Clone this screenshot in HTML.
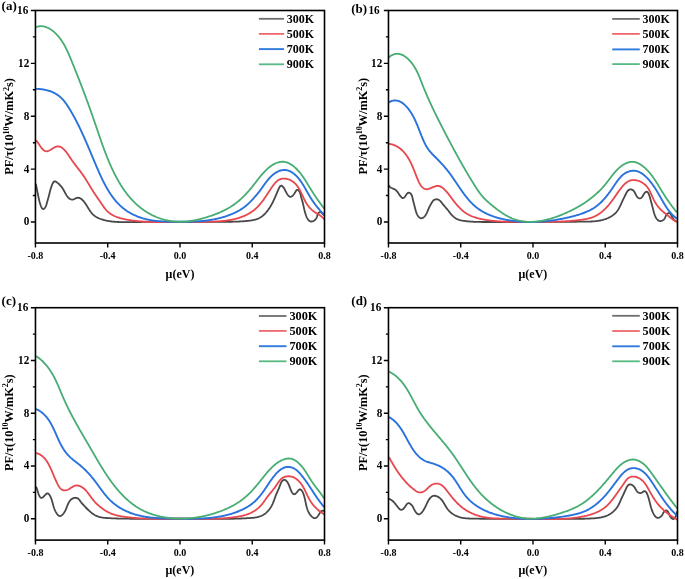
<!DOCTYPE html>
<html><head><meta charset="utf-8"><style>
html,body{margin:0;padding:0;background:#fff;width:685px;height:579px;overflow:hidden}
svg{display:block;will-change:transform;filter:blur(0.35px)}
</style></head><body>
<svg width="685" height="579" viewBox="0 0 685 579">
<rect width="685" height="579" fill="#fff"/>
<clipPath id="clipa"><rect x="35.45" y="10.50" width="289.05" height="232.50"/></clipPath>
<g clip-path="url(#clipa)" fill="none" stroke-linejoin="round" stroke-linecap="round">
<path d="M36.01,184.51 36.14,185.20 36.27,185.89 36.40,186.58 36.53,187.27 36.66,187.96 36.79,188.65 36.92,189.34 37.05,190.03 37.19,190.72 37.32,191.41 37.45,192.10 37.59,192.79 37.73,193.48 37.86,194.17 38.00,194.86 38.14,195.54 38.29,196.23 38.43,196.92 38.57,197.61 38.72,198.29 38.87,198.98 39.03,199.66 39.18,200.35 39.35,201.03 39.52,201.71 39.71,202.39 39.91,203.06 40.12,203.73 40.34,204.40 40.58,205.06 40.82,205.72 41.08,206.37 41.36,207.01 41.67,207.64 42.03,208.24 42.48,208.78 43.09,209.12 43.76,208.97 44.31,208.54 44.77,208.01 45.17,207.43 45.52,206.83 45.84,206.20 46.11,205.55 46.34,204.89 46.54,204.21 46.72,203.54 46.91,202.86 47.10,202.18 47.29,201.51 47.48,200.83 47.67,200.16 47.87,199.48 48.06,198.80 48.25,198.13 48.44,197.45 48.62,196.77 48.80,196.10 48.98,195.42 49.15,194.74 49.32,194.05 49.49,193.37 49.65,192.69 49.82,192.01 50.00,191.33 50.18,190.65 50.36,189.97 50.55,189.30 50.75,188.62 50.95,187.95 51.17,187.28 51.39,186.62 51.63,185.95 51.87,185.30 52.12,184.64 52.39,183.99 52.69,183.35 53.02,182.74 53.42,182.16 53.91,181.67 54.54,181.37 55.24,181.42 55.89,181.68 56.49,182.05 57.06,182.46 57.61,182.89 58.15,183.33 58.69,183.79 59.20,184.27 59.71,184.76 60.20,185.26 60.67,185.78 61.12,186.32 61.56,186.87 61.98,187.43 62.38,188.01 62.76,188.60 63.12,189.20 63.47,189.80 63.81,190.42 64.15,191.04 64.48,191.66 64.81,192.28 65.14,192.90 65.47,193.51 65.82,194.13 66.17,194.73 66.54,195.33 66.93,195.91 67.34,196.48 67.78,197.03 68.25,197.56 68.75,198.05 69.28,198.50 69.86,198.90 70.48,199.23 71.14,199.48 71.83,199.61 72.53,199.61 73.22,199.50 73.88,199.27 74.51,198.96 75.13,198.62 75.74,198.29 76.39,198.01 77.06,197.82 77.76,197.73 78.46,197.77 79.15,197.91 79.81,198.14 80.44,198.45 81.03,198.82 81.60,199.24 82.13,199.70 82.64,200.18 83.12,200.69 83.59,201.22 84.03,201.76 84.47,202.31 84.89,202.87 85.30,203.44 85.70,204.02 86.09,204.61 86.47,205.20 86.84,205.79 87.21,206.39 87.58,206.99 87.94,207.59 88.31,208.19 88.68,208.78 89.05,209.38 89.44,209.97 89.82,210.55 90.22,211.13 90.63,211.70 91.06,212.26 91.50,212.81 91.95,213.34 92.42,213.86 92.91,214.37 93.42,214.85 93.95,215.31 94.50,215.75 95.06,216.16 95.65,216.56 96.24,216.93 96.85,217.29 97.47,217.62 98.09,217.93 98.73,218.23 99.37,218.51 100.03,218.77 100.68,219.02 101.34,219.25 102.01,219.47 102.68,219.68 103.36,219.88 104.03,220.06 104.71,220.24 105.40,220.40 106.08,220.56 106.77,220.71 107.46,220.84 108.15,220.97 108.84,221.09 109.53,221.20 110.23,221.31 110.92,221.40 111.62,221.49 112.32,221.57 113.01,221.64 113.71,221.71 114.41,221.77 115.11,221.83 115.81,221.87 116.51,221.92 117.22,221.95 117.92,221.99 118.62,222.01 119.32,222.04 120.02,222.06 120.72,222.07 121.43,222.08 122.13,222.09 122.83,222.10 123.53,222.10 124.24,222.10 124.94,222.10 125.64,222.10 126.34,222.09 127.04,222.09 127.75,222.08 128.45,222.07 129.15,222.07 129.85,222.06 130.55,222.05 131.26,222.04 131.96,222.04 132.66,222.03 133.36,222.02 134.07,222.02 134.77,222.01 135.47,222.01 136.17,222.00 136.87,222.00 137.58,221.99 138.28,221.99 138.98,221.99 139.68,221.98 140.39,221.98 141.09,221.98 141.79,221.97 142.49,221.97 143.19,221.97 143.90,221.97 144.60,221.97 145.30,221.97 146.00,221.96 146.71,221.96 147.41,221.96 148.11,221.96 148.81,221.96 149.51,221.96 150.22,221.96 150.92,221.96 151.62,221.96 152.32,221.96 153.02,221.96 153.73,221.96 154.43,221.97 155.13,221.97 155.83,221.97 156.54,221.97 157.24,221.97 157.94,221.97 158.64,221.97 159.34,221.97 160.05,221.98 160.75,221.98 161.45,221.98 162.15,221.98 162.86,221.98 163.56,221.98 164.26,221.99 164.96,221.99 165.66,221.99 166.37,221.99 167.07,221.99 167.77,221.99 168.47,222.00 169.18,222.00 169.88,222.00 170.58,222.00 171.28,222.00 171.98,222.00 172.69,222.00 173.39,222.01 174.09,222.01 174.79,222.01 175.50,222.01 176.20,222.01 176.90,222.01 177.60,222.01 178.30,222.01 179.01,222.01 179.71,222.01 180.41,222.01 181.11,222.01 181.82,222.01 182.52,222.01 183.22,222.00 183.92,222.00 184.62,222.00 185.33,222.00 186.03,222.00 186.73,222.00 187.43,221.99 188.14,221.99 188.84,221.99 189.54,221.98 190.24,221.98 190.94,221.98 191.65,221.97 192.35,221.97 193.05,221.96 193.75,221.96 194.45,221.95 195.16,221.95 195.86,221.94 196.56,221.94 197.26,221.93 197.97,221.92 198.67,221.92 199.37,221.91 200.07,221.91 200.77,221.90 201.48,221.89 202.18,221.89 202.88,221.88 203.58,221.88 204.29,221.87 204.99,221.87 205.69,221.86 206.39,221.85 207.09,221.85 207.80,221.84 208.50,221.84 209.20,221.83 209.90,221.83 210.60,221.82 211.31,221.82 212.01,221.81 212.71,221.81 213.41,221.80 214.12,221.80 214.82,221.80 215.52,221.79 216.22,221.79 216.92,221.79 217.63,221.79 218.33,221.79 219.03,221.78 219.73,221.78 220.44,221.78 221.14,221.78 221.84,221.78 222.54,221.78 223.24,221.78 223.95,221.78 224.65,221.78 225.35,221.78 226.05,221.78 226.76,221.78 227.46,221.78 228.16,221.77 228.86,221.77 229.56,221.76 230.27,221.76 230.97,221.75 231.67,221.74 232.37,221.73 233.07,221.72 233.78,221.70 234.48,221.68 235.18,221.67 235.88,221.65 236.58,221.62 237.29,221.60 237.99,221.57 238.69,221.54 239.39,221.51 240.09,221.47 240.79,221.43 241.49,221.39 242.20,221.35 242.90,221.30 243.60,221.25 244.30,221.19 245.00,221.14 245.70,221.07 246.39,221.01 247.09,220.94 247.79,220.87 248.49,220.79 249.19,220.71 249.88,220.62 250.58,220.52 251.27,220.41 251.97,220.30 252.66,220.17 253.34,220.03 254.03,219.88 254.71,219.71 255.39,219.52 256.06,219.32 256.73,219.10 257.39,218.86 258.04,218.60 258.68,218.31 259.31,218.00 259.93,217.67 260.53,217.31 261.12,216.93 261.70,216.53 262.27,216.12 262.82,215.68 263.35,215.23 263.88,214.76 264.39,214.28 264.89,213.78 265.37,213.28 265.85,212.76 266.31,212.23 266.76,211.69 267.20,211.15 267.63,210.59 268.06,210.03 268.47,209.46 268.87,208.89 269.26,208.31 269.65,207.72 270.02,207.12 270.39,206.53 270.75,205.92 271.10,205.31 271.45,204.70 271.78,204.09 272.11,203.47 272.44,202.84 272.76,202.22 273.07,201.59 273.38,200.96 273.68,200.32 273.98,199.69 274.27,199.05 274.56,198.41 274.84,197.77 275.13,197.13 275.41,196.48 275.69,195.84 275.96,195.19 276.24,194.55 276.51,193.90 276.78,193.25 277.06,192.61 277.33,191.96 277.60,191.31 277.88,190.67 278.16,190.02 278.44,189.38 278.73,188.74 279.03,188.10 279.34,187.48 279.69,186.87 280.11,186.30 280.63,185.84 281.30,185.67 281.95,185.92 282.51,186.34 283.01,186.84 283.46,187.38 283.87,187.95 284.24,188.54 284.57,189.16 284.89,189.79 285.20,190.42 285.51,191.05 285.83,191.67 286.16,192.29 286.50,192.90 286.86,193.51 287.24,194.10 287.64,194.68 288.07,195.23 288.54,195.75 289.06,196.22 289.66,196.59 290.32,196.81 291.02,196.78 291.66,196.51 292.24,196.11 292.76,195.63 293.23,195.11 293.67,194.56 294.08,194.00 294.48,193.42 294.85,192.83 295.22,192.23 295.58,191.62 295.93,191.02 296.31,190.42 296.79,189.91 297.46,189.80 298.08,190.11 298.61,190.57 299.07,191.10 299.47,191.67 299.82,192.29 300.10,192.93 300.33,193.59 300.52,194.27 300.68,194.95 300.82,195.64 300.97,196.33 301.13,197.01 301.31,197.69 301.50,198.36 301.71,199.04 301.91,199.71 302.12,200.38 302.31,201.05 302.50,201.73 302.68,202.41 302.85,203.09 303.02,203.77 303.18,204.46 303.34,205.14 303.49,205.83 303.64,206.51 303.79,207.20 303.94,207.88 304.10,208.57 304.25,209.25 304.42,209.94 304.58,210.62 304.76,211.30 304.94,211.98 305.13,212.65 305.33,213.33 305.54,214.00 305.76,214.66 305.98,215.33 306.23,215.99 306.48,216.64 306.76,217.28 307.06,217.92 307.39,218.54 307.76,219.14 308.16,219.71 308.62,220.25 309.13,220.72 309.71,221.12 310.36,221.39 311.05,221.52 311.75,221.50 312.44,221.36 313.10,221.13 313.73,220.82 314.32,220.45 314.87,220.01 315.38,219.53 315.83,218.99 316.23,218.41 316.55,217.79 316.81,217.13 317.03,216.47 317.22,215.79 317.43,215.12 317.67,214.46 317.96,213.83 318.35,213.24 318.82,212.72 319.40,212.32 320.06,212.12 320.76,212.19 321.38,212.50 321.91,212.97 322.36,213.50 322.81,214.05 323.28,214.56 323.90,214.85" stroke="#484848" stroke-width="1.80"/>
<path d="M36.40,140.75 36.88,141.27 37.32,141.81 37.74,142.38 38.14,142.95 38.54,143.53 38.92,144.12 39.31,144.71 39.69,145.29 40.08,145.88 40.47,146.46 40.87,147.04 41.29,147.61 41.71,148.17 42.16,148.71 42.63,149.23 43.12,149.73 43.65,150.19 44.22,150.60 44.83,150.95 45.49,151.20 46.18,151.32 46.88,151.31 47.57,151.19 48.24,150.97 48.88,150.71 49.51,150.39 50.13,150.06 50.73,149.70 51.33,149.33 51.93,148.96 52.52,148.58 53.12,148.21 53.72,147.85 54.33,147.51 54.96,147.19 55.60,146.91 56.26,146.67 56.94,146.50 57.64,146.41 58.34,146.41 59.04,146.50 59.72,146.67 60.38,146.92 61.01,147.22 61.62,147.57 62.20,147.96 62.76,148.39 63.29,148.84 63.81,149.32 64.31,149.81 64.79,150.33 65.26,150.85 65.71,151.38 66.15,151.93 66.58,152.48 67.01,153.05 67.42,153.61 67.82,154.19 68.22,154.76 68.62,155.35 69.01,155.93 69.39,156.52 69.78,157.10 70.16,157.69 70.55,158.28 70.94,158.86 71.33,159.44 71.73,160.02 72.13,160.60 72.54,161.17 72.95,161.74 73.36,162.31 73.78,162.87 74.20,163.44 74.62,164.00 75.05,164.56 75.47,165.11 75.90,165.67 76.33,166.23 76.76,166.78 77.19,167.34 77.62,167.89 78.05,168.44 78.48,169.00 78.91,169.56 79.34,170.11 79.77,170.67 80.19,171.23 80.62,171.79 81.04,172.35 81.45,172.92 81.87,173.48 82.28,174.06 82.68,174.63 83.08,175.20 83.48,175.78 83.87,176.37 84.26,176.95 84.65,177.54 85.03,178.13 85.41,178.72 85.78,179.31 86.15,179.91 86.53,180.51 86.89,181.10 87.26,181.70 87.63,182.30 87.99,182.90 88.35,183.50 88.72,184.10 89.08,184.71 89.44,185.31 89.80,185.91 90.16,186.51 90.53,187.11 90.89,187.71 91.26,188.31 91.62,188.91 91.99,189.51 92.36,190.11 92.74,190.70 93.11,191.29 93.49,191.88 93.87,192.47 94.26,193.06 94.65,193.65 95.04,194.23 95.43,194.81 95.82,195.39 96.22,195.97 96.61,196.55 97.01,197.13 97.41,197.71 97.81,198.29 98.21,198.87 98.61,199.45 99.01,200.02 99.40,200.60 99.80,201.18 100.20,201.76 100.59,202.34 100.99,202.92 101.38,203.50 101.77,204.09 102.16,204.67 102.56,205.25 102.96,205.83 103.36,206.41 103.77,206.98 104.18,207.54 104.60,208.11 105.03,208.66 105.48,209.20 105.93,209.74 106.40,210.26 106.88,210.78 107.38,211.27 107.89,211.75 108.42,212.21 108.96,212.66 109.51,213.09 110.08,213.51 110.66,213.90 111.25,214.28 111.85,214.65 112.46,215.00 113.08,215.33 113.70,215.65 114.33,215.96 114.97,216.25 115.62,216.52 116.27,216.79 116.93,217.04 117.59,217.28 118.25,217.51 118.92,217.72 119.59,217.93 120.26,218.13 120.94,218.32 121.62,218.50 122.30,218.67 122.98,218.83 123.67,218.99 124.35,219.13 125.04,219.28 125.73,219.41 126.42,219.55 127.11,219.67 127.80,219.80 128.49,219.91 129.19,220.03 129.88,220.14 130.58,220.25 131.27,220.35 131.97,220.45 132.66,220.54 133.36,220.63 134.05,220.72 134.75,220.81 135.45,220.89 136.15,220.96 136.84,221.04 137.54,221.11 138.24,221.18 138.94,221.24 139.64,221.30 140.34,221.36 141.04,221.41 141.74,221.47 142.44,221.52 143.14,221.56 143.84,221.61 144.55,221.65 145.25,221.69 145.95,221.72 146.65,221.75 147.35,221.79 148.05,221.81 148.75,221.84 149.46,221.87 150.16,221.89 150.86,221.91 151.56,221.93 152.26,221.94 152.97,221.96 153.67,221.97 154.37,221.98 155.07,221.99 155.77,222.00 156.48,222.01 157.18,222.01 157.88,222.01 158.58,222.02 159.29,222.02 159.99,222.02 160.69,222.02 161.39,222.02 162.09,222.01 162.80,222.01 163.50,222.01 164.20,222.00 164.90,222.00 165.61,221.99 166.31,221.98 167.01,221.98 167.71,221.97 168.41,221.96 169.12,221.96 169.82,221.95 170.52,221.94 171.22,221.93 171.93,221.93 172.63,221.92 173.33,221.91 174.03,221.90 174.73,221.90 175.44,221.89 176.14,221.89 176.84,221.88 177.54,221.88 178.25,221.87 178.95,221.87 179.65,221.87 180.35,221.86 181.06,221.86 181.76,221.86 182.46,221.86 183.16,221.85 183.86,221.85 184.57,221.85 185.27,221.85 185.97,221.85 186.67,221.85 187.38,221.85 188.08,221.85 188.78,221.84 189.48,221.84 190.18,221.84 190.89,221.84 191.59,221.84 192.29,221.84 192.99,221.84 193.70,221.83 194.40,221.83 195.10,221.83 195.80,221.83 196.50,221.82 197.21,221.82 197.91,221.81 198.61,221.81 199.31,221.80 200.02,221.80 200.72,221.79 201.42,221.79 202.12,221.78 202.82,221.77 203.53,221.76 204.23,221.75 204.93,221.74 205.63,221.73 206.34,221.72 207.04,221.71 207.74,221.70 208.44,221.68 209.14,221.67 209.85,221.65 210.55,221.63 211.25,221.62 211.95,221.60 212.65,221.57 213.36,221.55 214.06,221.53 214.76,221.50 215.46,221.47 216.16,221.44 216.86,221.40 217.57,221.36 218.27,221.32 218.97,221.28 219.67,221.23 220.37,221.18 221.07,221.13 221.77,221.07 222.47,221.00 223.17,220.94 223.87,220.86 224.56,220.79 225.26,220.71 225.96,220.62 226.65,220.53 227.35,220.43 228.04,220.33 228.74,220.22 229.43,220.11 230.12,219.99 230.81,219.87 231.50,219.74 232.19,219.60 232.88,219.45 233.57,219.30 234.25,219.15 234.93,218.98 235.62,218.81 236.29,218.63 236.97,218.45 237.65,218.26 238.32,218.06 238.99,217.85 239.66,217.63 240.33,217.41 240.99,217.18 241.65,216.94 242.31,216.69 242.96,216.43 243.61,216.17 244.26,215.89 244.90,215.61 245.54,215.32 246.17,215.02 246.80,214.71 247.43,214.39 248.05,214.06 248.66,213.72 249.27,213.37 249.87,213.01 250.47,212.64 251.06,212.26 251.64,211.87 252.22,211.47 252.79,211.06 253.35,210.64 253.91,210.21 254.45,209.76 254.99,209.31 255.52,208.85 256.04,208.38 256.55,207.90 257.06,207.41 257.56,206.91 258.04,206.41 258.53,205.90 259.00,205.38 259.47,204.86 259.93,204.33 260.38,203.79 260.83,203.25 261.27,202.71 261.71,202.16 262.14,201.60 262.57,201.04 262.99,200.48 263.40,199.91 263.81,199.34 264.22,198.77 264.62,198.20 265.02,197.62 265.42,197.04 265.81,196.45 266.20,195.87 266.58,195.28 266.97,194.70 267.35,194.11 267.73,193.52 268.11,192.93 268.49,192.33 268.87,191.74 269.25,191.15 269.63,190.57 270.02,189.98 270.40,189.39 270.80,188.81 271.19,188.23 271.59,187.65 271.99,187.07 272.40,186.50 272.81,185.93 273.23,185.37 273.66,184.81 274.09,184.26 274.54,183.72 274.99,183.18 275.46,182.66 275.95,182.15 276.45,181.66 276.97,181.19 277.51,180.75 278.08,180.33 278.67,179.95 279.28,179.61 279.92,179.31 280.58,179.07 281.25,178.87 281.94,178.73 282.64,178.63 283.34,178.58 284.04,178.56 284.74,178.59 285.44,178.65 286.13,178.75 286.82,178.88 287.51,179.04 288.18,179.24 288.85,179.46 289.50,179.71 290.15,179.99 290.78,180.30 291.39,180.64 291.99,181.00 292.58,181.39 293.14,181.81 293.69,182.24 294.23,182.70 294.74,183.18 295.24,183.67 295.73,184.18 296.19,184.71 296.64,185.25 297.07,185.80 297.49,186.36 297.90,186.94 298.29,187.52 298.66,188.11 299.03,188.71 299.38,189.32 299.72,189.93 300.06,190.55 300.38,191.17 300.70,191.80 301.01,192.43 301.31,193.06 301.62,193.70 301.91,194.33 302.21,194.97 302.50,195.61 302.80,196.25 303.09,196.88 303.39,197.52 303.69,198.16 303.99,198.79 304.30,199.42 304.61,200.05 304.93,200.67 305.26,201.29 305.60,201.91 305.95,202.52 306.31,203.12 306.68,203.72 307.06,204.31 307.46,204.88 307.87,205.45 308.30,206.01 308.73,206.56 309.18,207.10 309.65,207.63 310.12,208.15 310.61,208.65 311.11,209.15 311.62,209.63 312.14,210.09 312.68,210.55 313.22,210.99 313.78,211.42 314.35,211.84 314.92,212.24 315.51,212.63 316.10,213.00 316.70,213.37 317.30,213.74 317.90,214.10 318.50,214.46 319.10,214.83 319.69,215.21 320.27,215.60 320.85,216.00 321.41,216.42 321.96,216.86 322.49,217.33 322.99,217.81 323.47,218.33 323.92,218.87" stroke="#e8474d" stroke-width="1.80"/>
<path d="M36.36,88.84 37.07,88.86 37.77,88.90 38.47,88.94 39.17,88.99 39.87,89.06 40.57,89.13 41.26,89.21 41.96,89.30 42.66,89.40 43.35,89.52 44.04,89.64 44.73,89.77 45.42,89.91 46.10,90.07 46.78,90.23 47.46,90.41 48.14,90.60 48.81,90.80 49.48,91.01 50.15,91.23 50.81,91.47 51.47,91.72 52.12,91.98 52.76,92.25 53.40,92.54 54.04,92.85 54.66,93.16 55.28,93.50 55.89,93.84 56.49,94.21 57.08,94.59 57.66,94.98 58.23,95.39 58.79,95.82 59.34,96.26 59.88,96.71 60.40,97.17 60.92,97.65 61.42,98.14 61.92,98.64 62.40,99.15 62.88,99.66 63.34,100.19 63.80,100.72 64.25,101.26 64.69,101.81 65.12,102.37 65.54,102.93 65.95,103.49 66.36,104.06 66.77,104.64 67.16,105.22 67.55,105.80 67.94,106.39 68.32,106.98 68.69,107.57 69.07,108.17 69.43,108.77 69.80,109.37 70.16,109.97 70.52,110.57 70.88,111.18 71.23,111.78 71.59,112.39 71.94,113.00 72.28,113.61 72.63,114.22 72.97,114.83 73.32,115.44 73.66,116.06 73.99,116.67 74.33,117.29 74.66,117.91 75.00,118.53 75.33,119.15 75.65,119.77 75.98,120.39 76.30,121.01 76.63,121.64 76.95,122.26 77.27,122.89 77.58,123.51 77.90,124.14 78.21,124.77 78.52,125.40 78.83,126.03 79.14,126.66 79.45,127.29 79.76,127.92 80.06,128.55 80.36,129.19 80.66,129.82 80.96,130.46 81.26,131.09 81.56,131.73 81.85,132.37 82.15,133.00 82.44,133.64 82.73,134.28 83.02,134.92 83.31,135.56 83.60,136.20 83.89,136.84 84.17,137.48 84.46,138.13 84.74,138.77 85.02,139.41 85.31,140.05 85.59,140.70 85.87,141.34 86.15,141.98 86.43,142.63 86.70,143.27 86.98,143.92 87.26,144.56 87.53,145.21 87.81,145.86 88.09,146.50 88.36,147.15 88.63,147.79 88.91,148.44 89.18,149.09 89.45,149.73 89.73,150.38 90.00,151.03 90.27,151.68 90.54,152.32 90.81,152.97 91.08,153.62 91.36,154.27 91.63,154.91 91.90,155.56 92.17,156.21 92.44,156.86 92.71,157.51 92.98,158.15 93.25,158.80 93.53,159.45 93.80,160.10 94.07,160.74 94.34,161.39 94.62,162.04 94.89,162.68 95.16,163.33 95.44,163.98 95.71,164.62 95.99,165.27 96.26,165.92 96.54,166.56 96.81,167.21 97.09,167.85 97.37,168.50 97.65,169.14 97.93,169.79 98.21,170.43 98.49,171.07 98.77,171.72 99.05,172.36 99.34,173.00 99.63,173.64 99.91,174.28 100.20,174.92 100.50,175.56 100.79,176.20 101.09,176.83 101.38,177.47 101.68,178.10 101.98,178.74 102.29,179.37 102.60,180.00 102.90,180.63 103.22,181.26 103.53,181.89 103.85,182.52 104.17,183.14 104.49,183.77 104.82,184.39 105.15,185.01 105.48,185.63 105.81,186.24 106.15,186.86 106.50,187.47 106.84,188.08 107.19,188.69 107.55,189.30 107.91,189.90 108.27,190.50 108.64,191.10 109.01,191.70 109.38,192.29 109.76,192.88 110.15,193.47 110.53,194.05 110.93,194.63 111.33,195.21 111.73,195.79 112.14,196.36 112.55,196.92 112.97,197.49 113.40,198.05 113.83,198.60 114.26,199.15 114.70,199.70 115.15,200.24 115.60,200.78 116.06,201.31 116.52,201.84 116.99,202.36 117.47,202.88 117.95,203.39 118.44,203.90 118.93,204.39 119.43,204.89 119.93,205.38 120.45,205.86 120.96,206.33 121.49,206.80 122.02,207.26 122.55,207.71 123.10,208.16 123.64,208.60 124.20,209.03 124.76,209.45 125.32,209.87 125.90,210.28 126.47,210.68 127.06,211.07 127.64,211.45 128.24,211.83 128.84,212.19 129.44,212.55 130.05,212.90 130.66,213.25 131.28,213.58 131.90,213.91 132.52,214.23 133.15,214.54 133.78,214.85 134.42,215.14 135.06,215.43 135.70,215.72 136.35,215.99 137.00,216.26 137.65,216.52 138.31,216.77 138.96,217.02 139.62,217.26 140.29,217.49 140.95,217.72 141.62,217.93 142.29,218.14 142.96,218.35 143.63,218.54 144.31,218.73 144.99,218.92 145.67,219.09 146.35,219.26 147.03,219.42 147.72,219.58 148.40,219.73 149.09,219.87 149.78,220.00 150.47,220.13 151.16,220.25 151.86,220.36 152.55,220.47 153.25,220.57 153.94,220.66 154.64,220.75 155.34,220.83 156.03,220.91 156.73,220.98 157.43,221.05 158.13,221.11 158.83,221.17 159.53,221.22 160.23,221.27 160.93,221.32 161.63,221.36 162.33,221.40 163.04,221.43 163.74,221.46 164.44,221.49 165.14,221.52 165.84,221.54 166.54,221.57 167.25,221.59 167.95,221.60 168.65,221.62 169.35,221.64 170.05,221.65 170.76,221.67 171.46,221.68 172.16,221.70 172.86,221.71 173.56,221.72 174.27,221.73 174.97,221.74 175.67,221.75 176.37,221.76 177.07,221.77 177.78,221.78 178.48,221.79 179.18,221.79 179.88,221.80 180.58,221.80 181.29,221.81 181.99,221.81 182.69,221.81 183.39,221.80 184.10,221.80 184.80,221.80 185.50,221.79 186.20,221.78 186.90,221.77 187.61,221.76 188.31,221.75 189.01,221.73 189.71,221.71 190.41,221.69 191.12,221.67 191.82,221.65 192.52,221.62 193.22,221.59 193.92,221.56 194.62,221.53 195.33,221.49 196.03,221.45 196.73,221.41 197.43,221.37 198.13,221.32 198.83,221.27 199.53,221.22 200.23,221.16 200.93,221.11 201.63,221.04 202.33,220.98 203.03,220.91 203.73,220.84 204.42,220.76 205.12,220.69 205.82,220.60 206.52,220.52 207.21,220.43 207.91,220.33 208.60,220.24 209.30,220.14 209.99,220.03 210.69,219.92 211.38,219.81 212.07,219.69 212.76,219.57 213.45,219.44 214.14,219.31 214.83,219.18 215.52,219.04 216.21,218.90 216.90,218.75 217.58,218.60 218.26,218.44 218.95,218.28 219.63,218.11 220.31,217.94 220.99,217.76 221.67,217.58 222.34,217.39 223.02,217.20 223.69,217.00 224.37,216.80 225.04,216.59 225.71,216.37 226.37,216.15 227.04,215.93 227.70,215.70 228.36,215.46 229.02,215.22 229.68,214.97 230.33,214.72 230.98,214.46 231.63,214.19 232.28,213.92 232.92,213.64 233.57,213.35 234.20,213.06 234.84,212.76 235.47,212.45 236.10,212.14 236.72,211.82 237.35,211.49 237.96,211.16 238.58,210.81 239.19,210.47 239.79,210.11 240.39,209.75 240.99,209.37 241.58,208.99 242.16,208.61 242.74,208.21 243.32,207.81 243.89,207.40 244.46,206.98 245.01,206.56 245.57,206.12 246.11,205.68 246.65,205.23 247.18,204.78 247.71,204.31 248.23,203.84 248.74,203.36 249.25,202.87 249.75,202.38 250.24,201.88 250.73,201.38 251.22,200.87 251.70,200.36 252.18,199.84 252.65,199.33 253.12,198.80 253.59,198.28 254.05,197.75 254.52,197.23 254.98,196.70 255.44,196.17 255.90,195.64 256.36,195.10 256.81,194.57 257.26,194.03 257.71,193.49 258.16,192.95 258.60,192.40 259.03,191.85 259.46,191.30 259.89,190.74 260.31,190.18 260.73,189.61 261.14,189.04 261.55,188.48 261.96,187.90 262.37,187.33 262.78,186.76 263.18,186.19 263.59,185.62 264.00,185.04 264.41,184.47 264.82,183.91 265.23,183.34 265.65,182.77 266.07,182.21 266.50,181.65 266.93,181.10 267.36,180.55 267.80,180.00 268.25,179.46 268.71,178.93 269.17,178.40 269.64,177.88 270.12,177.37 270.61,176.86 271.11,176.37 271.62,175.89 272.14,175.41 272.67,174.95 273.22,174.51 273.77,174.08 274.33,173.66 274.91,173.26 275.50,172.87 276.10,172.51 276.71,172.16 277.33,171.83 277.96,171.52 278.60,171.24 279.25,170.98 279.91,170.74 280.58,170.53 281.26,170.35 281.95,170.21 282.64,170.09 283.34,170.01 284.04,169.96 284.74,169.96 285.44,169.99 286.14,170.07 286.83,170.19 287.52,170.34 288.19,170.54 288.85,170.77 289.50,171.04 290.14,171.34 290.76,171.66 291.38,172.00 291.97,172.37 292.56,172.76 293.13,173.16 293.69,173.59 294.24,174.03 294.78,174.48 295.30,174.94 295.82,175.42 296.32,175.91 296.81,176.41 297.30,176.92 297.77,177.44 298.23,177.97 298.68,178.51 299.12,179.05 299.56,179.61 299.98,180.17 300.40,180.73 300.80,181.30 301.20,181.88 301.60,182.46 301.98,183.05 302.36,183.64 302.74,184.23 303.10,184.83 303.47,185.43 303.83,186.04 304.18,186.64 304.53,187.25 304.88,187.86 305.23,188.47 305.58,189.08 305.92,189.69 306.26,190.31 306.61,190.92 306.95,191.53 307.29,192.14 307.64,192.76 307.98,193.37 308.33,193.98 308.69,194.58 309.04,195.19 309.40,195.79 309.76,196.39 310.13,196.99 310.50,197.59 310.87,198.18 311.25,198.77 311.63,199.36 312.02,199.95 312.41,200.53 312.80,201.12 313.20,201.69 313.60,202.27 314.01,202.84 314.42,203.41 314.84,203.98 315.25,204.54 315.68,205.10 316.10,205.66 316.54,206.21 316.97,206.76 317.41,207.31 317.85,207.86 318.30,208.40 318.75,208.93 319.21,209.47 319.67,210.00 320.13,210.53 320.60,211.05 321.07,211.57 321.55,212.09 322.03,212.60 322.51,213.11 323.00,213.62 323.49,214.12 323.98,214.62" stroke="#2a72dc" stroke-width="1.90"/>
<path d="M36.28,27.01 36.95,26.79 37.62,26.61 38.31,26.45 39.00,26.34 39.70,26.25 40.40,26.20 41.10,26.19 41.80,26.21 42.50,26.27 43.19,26.36 43.88,26.49 44.57,26.64 45.25,26.82 45.91,27.04 46.57,27.27 47.22,27.54 47.86,27.83 48.49,28.13 49.11,28.46 49.72,28.81 50.32,29.18 50.91,29.56 51.49,29.96 52.06,30.37 52.62,30.79 53.17,31.23 53.71,31.68 54.24,32.14 54.76,32.61 55.27,33.09 55.77,33.58 56.27,34.07 56.76,34.58 57.23,35.09 57.70,35.61 58.17,36.14 58.62,36.68 59.06,37.22 59.50,37.77 59.93,38.32 60.35,38.89 60.76,39.45 61.17,40.03 61.56,40.61 61.95,41.19 62.34,41.78 62.71,42.37 63.08,42.97 63.44,43.57 63.80,44.17 64.15,44.78 64.49,45.40 64.83,46.01 65.16,46.63 65.48,47.25 65.80,47.87 66.12,48.50 66.43,49.13 66.74,49.76 67.04,50.39 67.34,51.03 67.63,51.67 67.92,52.31 68.21,52.95 68.49,53.59 68.78,54.23 69.06,54.87 69.33,55.52 69.61,56.17 69.88,56.81 70.15,57.46 70.42,58.11 70.69,58.76 70.95,59.41 71.22,60.05 71.48,60.70 71.75,61.35 72.01,62.00 72.28,62.65 72.54,63.30 72.80,63.95 73.07,64.61 73.33,65.26 73.59,65.91 73.86,66.56 74.12,67.21 74.38,67.86 74.64,68.51 74.90,69.16 75.16,69.81 75.42,70.47 75.68,71.12 75.94,71.77 76.20,72.42 76.46,73.07 76.72,73.73 76.98,74.38 77.24,75.03 77.49,75.68 77.75,76.34 78.01,76.99 78.27,77.64 78.52,78.30 78.78,78.95 79.03,79.60 79.29,80.26 79.54,80.91 79.80,81.56 80.05,82.22 80.31,82.87 80.56,83.53 80.81,84.18 81.06,84.84 81.32,85.49 81.57,86.15 81.82,86.80 82.07,87.46 82.32,88.11 82.57,88.77 82.82,89.42 83.07,90.08 83.32,90.74 83.57,91.39 83.82,92.05 84.06,92.70 84.31,93.36 84.56,94.02 84.80,94.68 85.05,95.33 85.30,95.99 85.54,96.65 85.79,97.30 86.03,97.96 86.27,98.62 86.52,99.28 86.76,99.94 87.00,100.60 87.25,101.25 87.49,101.91 87.73,102.57 87.97,103.23 88.21,103.89 88.45,104.55 88.69,105.21 88.93,105.87 89.17,106.53 89.40,107.19 89.64,107.85 89.88,108.51 90.12,109.17 90.35,109.83 90.59,110.49 90.82,111.15 91.06,111.81 91.29,112.48 91.53,113.14 91.76,113.80 91.99,114.46 92.22,115.12 92.46,115.79 92.69,116.45 92.92,117.11 93.15,117.77 93.38,118.44 93.61,119.10 93.84,119.76 94.07,120.43 94.29,121.09 94.52,121.75 94.75,122.42 94.98,123.08 95.20,123.75 95.43,124.41 95.65,125.08 95.88,125.74 96.11,126.40 96.33,127.07 96.56,127.73 96.78,128.40 97.01,129.06 97.23,129.73 97.46,130.39 97.68,131.06 97.91,131.72 98.13,132.39 98.36,133.05 98.58,133.72 98.81,134.38 99.04,135.04 99.26,135.71 99.49,136.37 99.72,137.04 99.95,137.70 100.18,138.36 100.41,139.03 100.64,139.69 100.87,140.35 101.10,141.01 101.33,141.68 101.56,142.34 101.80,143.00 102.03,143.66 102.27,144.32 102.50,144.98 102.74,145.64 102.98,146.30 103.22,146.96 103.46,147.62 103.70,148.28 103.94,148.94 104.18,149.60 104.43,150.26 104.67,150.91 104.92,151.57 105.17,152.23 105.42,152.88 105.67,153.54 105.92,154.19 106.18,154.85 106.43,155.50 106.69,156.15 106.95,156.80 107.21,157.46 107.47,158.11 107.74,158.76 108.00,159.41 108.27,160.05 108.54,160.70 108.81,161.35 109.08,162.00 109.36,162.64 109.64,163.29 109.92,163.93 110.20,164.57 110.48,165.22 110.77,165.86 111.05,166.50 111.34,167.14 111.63,167.77 111.93,168.41 112.22,169.05 112.52,169.68 112.82,170.32 113.13,170.95 113.43,171.58 113.74,172.21 114.05,172.84 114.37,173.47 114.68,174.09 115.00,174.72 115.32,175.34 115.65,175.97 115.97,176.59 116.30,177.21 116.64,177.82 116.97,178.44 117.31,179.06 117.65,179.67 117.99,180.28 118.34,180.89 118.69,181.50 119.04,182.11 119.40,182.71 119.76,183.31 120.12,183.92 120.48,184.51 120.85,185.11 121.23,185.71 121.60,186.30 121.98,186.89 122.36,187.48 122.75,188.06 123.14,188.65 123.54,189.23 123.93,189.80 124.34,190.38 124.74,190.95 125.15,191.52 125.57,192.09 125.98,192.65 126.41,193.21 126.83,193.77 127.26,194.32 127.70,194.87 128.14,195.42 128.58,195.97 129.03,196.51 129.48,197.04 129.94,197.58 130.40,198.11 130.86,198.63 131.33,199.15 131.81,199.67 132.29,200.18 132.77,200.69 133.26,201.19 133.75,201.69 134.25,202.19 134.75,202.68 135.26,203.16 135.77,203.64 136.28,204.12 136.81,204.59 137.33,205.06 137.86,205.52 138.39,205.97 138.93,206.42 139.47,206.87 140.02,207.31 140.57,207.74 141.12,208.17 141.68,208.60 142.25,209.02 142.81,209.43 143.38,209.84 143.96,210.24 144.54,210.64 145.12,211.03 145.71,211.41 146.30,211.79 146.89,212.17 147.49,212.53 148.09,212.89 148.70,213.25 149.31,213.60 149.92,213.94 150.53,214.28 151.15,214.61 151.78,214.93 152.40,215.24 153.03,215.55 153.67,215.86 154.30,216.15 154.94,216.44 155.59,216.72 156.23,217.00 156.88,217.26 157.53,217.52 158.19,217.78 158.85,218.02 159.51,218.26 160.17,218.49 160.84,218.71 161.50,218.92 162.17,219.13 162.85,219.32 163.52,219.52 164.20,219.70 164.88,219.87 165.56,220.04 166.25,220.20 166.93,220.35 167.62,220.49 168.31,220.63 169.00,220.76 169.69,220.88 170.38,220.99 171.07,221.10 171.77,221.19 172.46,221.28 173.16,221.37 173.86,221.44 174.56,221.51 175.26,221.57 175.96,221.62 176.66,221.66 177.36,221.70 178.06,221.72 178.76,221.74 179.46,221.76 180.16,221.76 180.87,221.76 181.57,221.75 182.27,221.73 182.97,221.71 183.67,221.68 184.37,221.64 185.07,221.59 185.77,221.54 186.47,221.48 187.17,221.41 187.87,221.34 188.56,221.25 189.26,221.17 189.96,221.07 190.65,220.97 191.34,220.87 192.04,220.76 192.73,220.64 193.42,220.52 194.11,220.39 194.80,220.26 195.49,220.12 196.17,219.97 196.86,219.83 197.54,219.67 198.23,219.51 198.91,219.35 199.59,219.19 200.27,219.01 200.95,218.84 201.63,218.66 202.31,218.48 202.98,218.29 203.66,218.10 204.33,217.90 205.01,217.71 205.68,217.50 206.35,217.30 207.02,217.09 207.69,216.88 208.36,216.67 209.03,216.45 209.69,216.23 210.36,216.01 211.02,215.79 211.69,215.56 212.35,215.32 213.01,215.09 213.67,214.85 214.33,214.61 214.99,214.36 215.64,214.11 216.29,213.86 216.95,213.60 217.60,213.33 218.25,213.07 218.89,212.80 219.54,212.52 220.18,212.24 220.83,211.96 221.47,211.67 222.10,211.38 222.74,211.08 223.37,210.78 224.00,210.47 224.63,210.15 225.25,209.84 225.88,209.51 226.50,209.18 227.11,208.85 227.73,208.51 228.34,208.16 228.95,207.81 229.55,207.46 230.15,207.09 230.75,206.73 231.34,206.35 231.93,205.97 232.52,205.58 233.10,205.19 233.68,204.79 234.25,204.39 234.82,203.98 235.38,203.56 235.94,203.13 236.50,202.71 237.05,202.27 237.59,201.83 238.14,201.39 238.68,200.94 239.21,200.48 239.74,200.02 240.26,199.55 240.79,199.08 241.30,198.61 241.82,198.13 242.33,197.65 242.83,197.16 243.33,196.67 243.83,196.18 244.32,195.68 244.82,195.18 245.30,194.67 245.79,194.16 246.27,193.65 246.74,193.14 247.22,192.62 247.69,192.10 248.15,191.57 248.62,191.05 249.08,190.52 249.54,189.99 249.99,189.45 250.44,188.92 250.89,188.38 251.34,187.84 251.79,187.30 252.23,186.75 252.67,186.20 253.11,185.66 253.54,185.11 253.98,184.56 254.41,184.00 254.84,183.45 255.27,182.89 255.70,182.34 256.13,181.78 256.55,181.22 256.98,180.67 257.41,180.11 257.84,179.56 258.27,179.00 258.70,178.45 259.14,177.90 259.57,177.35 260.01,176.80 260.46,176.26 260.90,175.72 261.35,175.18 261.80,174.64 262.26,174.11 262.72,173.58 263.19,173.06 263.66,172.54 264.14,172.02 264.62,171.51 265.11,171.01 265.61,170.52 266.11,170.03 266.62,169.54 267.14,169.07 267.66,168.60 268.19,168.14 268.73,167.70 269.28,167.26 269.84,166.83 270.40,166.41 270.97,166.00 271.55,165.61 272.14,165.22 272.73,164.85 273.34,164.50 273.95,164.16 274.58,163.83 275.21,163.53 275.85,163.24 276.50,162.97 277.15,162.72 277.82,162.50 278.49,162.30 279.17,162.13 279.86,161.98 280.55,161.87 281.25,161.79 281.95,161.74 282.65,161.73 283.35,161.75 284.05,161.82 284.74,161.92 285.43,162.06 286.11,162.24 286.78,162.44 287.44,162.68 288.09,162.94 288.73,163.22 289.36,163.53 289.98,163.86 290.59,164.21 291.19,164.58 291.78,164.96 292.35,165.36 292.92,165.78 293.48,166.20 294.02,166.64 294.56,167.09 295.09,167.56 295.61,168.03 296.12,168.51 296.62,169.00 297.11,169.50 297.60,170.01 298.07,170.52 298.54,171.05 299.00,171.57 299.46,172.11 299.90,172.65 300.34,173.20 300.77,173.75 301.20,174.31 301.62,174.87 302.03,175.44 302.44,176.01 302.84,176.58 303.24,177.16 303.64,177.74 304.02,178.33 304.41,178.91 304.79,179.50 305.17,180.09 305.54,180.69 305.92,181.28 306.29,181.88 306.65,182.48 307.02,183.07 307.39,183.67 307.75,184.27 308.11,184.87 308.48,185.47 308.84,186.08 309.20,186.68 309.57,187.28 309.93,187.87 310.30,188.47 310.67,189.07 311.04,189.66 311.41,190.26 311.79,190.85 312.16,191.45 312.54,192.04 312.92,192.63 313.30,193.22 313.69,193.80 314.07,194.39 314.46,194.98 314.85,195.56 315.24,196.14 315.63,196.72 316.03,197.30 316.42,197.88 316.82,198.46 317.22,199.04 317.62,199.61 318.03,200.19 318.43,200.76 318.84,201.33 319.25,201.90 319.66,202.47 320.07,203.04 320.49,203.60 320.90,204.17 321.32,204.73 321.74,205.29 322.16,205.86 322.58,206.42 323.01,206.98 323.43,207.53 323.86,208.09" stroke="#47ad73" stroke-width="1.80"/>
</g>
<rect x="35.45" y="10.50" width="289.05" height="232.50" fill="none" stroke="#000" stroke-width="1.6"/>
<path d="M30.85,222.00H35.45M32.85,195.56H35.45M30.85,169.12H35.45M32.85,142.68H35.45M30.85,116.24H35.45M32.85,89.80H35.45M30.85,63.36H35.45M32.85,36.92H35.45M30.85,10.48H35.45M35.45,243.00V247.40M107.71,243.00V247.40M179.98,243.00V247.40M252.24,243.00V247.40M324.50,243.00V247.40" stroke="#000" stroke-width="1.4" fill="none"/>
<g font-family="'Liberation Serif', serif" font-weight="bold" font-size="11.2" fill="#000"><text transform="translate(29.25,225.40) scale(1,1.2)" text-anchor="end">0</text><text transform="translate(29.25,172.52) scale(1,1.2)" text-anchor="end">4</text><text transform="translate(29.25,119.64) scale(1,1.2)" text-anchor="end">8</text><text transform="translate(29.25,66.76) scale(1,1.2)" text-anchor="end">12</text><text transform="translate(28.25,13.88) scale(1,1.2)" text-anchor="end">16</text></g>
<g font-family="'Liberation Serif', serif" font-weight="bold" font-size="10" fill="#000"><text x="35.45" y="258.60" text-anchor="middle">-0.8</text><text x="107.71" y="258.60" text-anchor="middle">-0.4</text><text x="179.98" y="258.60" text-anchor="middle">0.0</text><text x="252.24" y="258.60" text-anchor="middle">0.4</text><text x="324.50" y="258.60" text-anchor="middle">0.8</text></g>
<text x="1.60" y="10.00" font-family="'Liberation Serif', serif" font-weight="bold" font-size="13">(a)</text>
<text x="180.00" y="277.60" text-anchor="middle" font-family="'Liberation Serif', serif" font-weight="bold" font-size="12">&#956;(eV)</text>
<text transform="translate(13.20,126.50) rotate(-90)" text-anchor="middle" font-family="'Liberation Serif', serif" font-weight="bold" font-size="12.25">PF/&#964;(10<tspan font-size="8" dy="-4.5">10</tspan><tspan dy="4.5">W/mK</tspan><tspan font-size="8" dy="-4.5">2</tspan><tspan dy="4.5">s)</tspan></text>
<line x1="258.90" y1="18.80" x2="284.00" y2="18.80" stroke="#6e6e6e" stroke-width="1.80"/>
<text x="286.70" y="22.82" font-family="'Liberation Serif', serif" font-weight="bold" font-size="12">300K</text>
<line x1="258.90" y1="33.90" x2="284.00" y2="33.90" stroke="#ee676c" stroke-width="1.80"/>
<text x="286.70" y="37.92" font-family="'Liberation Serif', serif" font-weight="bold" font-size="12">500K</text>
<line x1="258.90" y1="49.10" x2="284.00" y2="49.10" stroke="#2f7bde" stroke-width="1.90"/>
<text x="286.70" y="53.12" font-family="'Liberation Serif', serif" font-weight="bold" font-size="12">700K</text>
<line x1="258.90" y1="64.30" x2="284.00" y2="64.30" stroke="#58b983" stroke-width="1.80"/>
<text x="286.70" y="68.32" font-family="'Liberation Serif', serif" font-weight="bold" font-size="12">900K</text>
<clipPath id="clipb"><rect x="388.47" y="10.50" width="289.03" height="232.50"/></clipPath>
<g clip-path="url(#clipb)" fill="none" stroke-linejoin="round" stroke-linecap="round">
<path d="M389.00,185.80 389.39,186.38 389.88,186.89 390.43,187.32 391.03,187.69 391.66,188.01 392.30,188.29 392.95,188.56 393.59,188.83 394.23,189.12 394.85,189.45 395.44,189.84 395.99,190.28 396.50,190.76 396.97,191.28 397.41,191.83 397.82,192.40 398.22,192.97 398.61,193.56 398.99,194.15 399.38,194.73 399.78,195.31 400.19,195.88 400.61,196.44 401.07,196.97 401.57,197.47 402.14,197.88 402.80,198.09 403.49,197.97 404.08,197.60 404.59,197.11 405.04,196.57 405.45,196.00 405.83,195.42 406.21,194.83 406.60,194.24 407.02,193.68 407.50,193.17 408.08,192.78 408.77,192.64 409.45,192.78 410.07,193.10 410.61,193.55 411.07,194.08 411.45,194.67 411.76,195.30 412.00,195.96 412.19,196.64 412.36,197.32 412.52,198.00 412.68,198.69 412.84,199.37 413.00,200.05 413.17,200.74 413.34,201.42 413.51,202.10 413.68,202.78 413.85,203.46 414.03,204.14 414.20,204.82 414.38,205.50 414.56,206.18 414.73,206.86 414.91,207.54 415.09,208.22 415.27,208.90 415.45,209.58 415.63,210.26 415.82,210.93 416.02,211.61 416.24,212.27 416.47,212.93 416.74,213.59 417.03,214.22 417.35,214.85 417.70,215.46 418.09,216.04 418.51,216.60 418.98,217.13 419.49,217.60 420.07,218.00 420.72,218.27 421.42,218.34 422.10,218.20 422.74,217.91 423.33,217.53 423.87,217.08 424.38,216.59 424.85,216.07 425.29,215.52 425.69,214.95 426.07,214.36 426.41,213.74 426.73,213.12 427.03,212.49 427.32,211.84 427.59,211.20 427.86,210.55 428.12,209.90 428.39,209.24 428.66,208.60 428.94,207.95 429.23,207.32 429.54,206.69 429.87,206.06 430.20,205.44 430.54,204.83 430.89,204.22 431.24,203.61 431.60,203.01 431.96,202.41 432.33,201.81 432.73,201.23 433.17,200.69 433.68,200.20 434.27,199.81 434.91,199.53 435.58,199.35 436.28,199.27 436.98,199.31 437.67,199.44 438.34,199.67 438.96,199.98 439.54,200.38 440.07,200.84 440.56,201.34 441.02,201.87 441.47,202.42 441.90,202.97 442.33,203.52 442.78,204.07 443.22,204.61 443.67,205.15 444.13,205.68 444.59,206.22 445.05,206.75 445.51,207.28 445.96,207.81 446.42,208.35 446.87,208.88 447.32,209.42 447.76,209.97 448.20,210.52 448.62,211.08 449.05,211.64 449.47,212.20 449.90,212.76 450.33,213.31 450.78,213.85 451.23,214.39 451.70,214.92 452.18,215.43 452.68,215.92 453.19,216.40 453.72,216.86 454.27,217.30 454.83,217.72 455.41,218.12 456.00,218.49 456.61,218.84 457.24,219.16 457.88,219.45 458.53,219.71 459.20,219.93 459.87,220.12 460.56,220.29 461.24,220.43 461.94,220.55 462.63,220.67 463.32,220.78 464.02,220.88 464.71,220.98 465.41,221.07 466.11,221.16 466.80,221.24 467.50,221.31 468.20,221.38 468.90,221.45 469.60,221.51 470.30,221.57 471.00,221.62 471.70,221.66 472.40,221.71 473.10,221.75 473.81,221.78 474.51,221.81 475.21,221.84 475.91,221.87 476.61,221.89 477.31,221.91 478.02,221.93 478.72,221.94 479.42,221.95 480.12,221.96 480.83,221.97 481.53,221.98 482.23,221.98 482.93,221.99 483.64,221.99 484.34,221.99 485.04,221.99 485.74,221.99 486.44,221.99 487.15,221.99 487.85,221.99 488.55,221.99 489.25,221.98 489.96,221.98 490.66,221.98 491.36,221.98 492.06,221.98 492.77,221.98 493.47,221.98 494.17,221.98 494.87,221.98 495.58,221.98 496.28,221.98 496.98,221.98 497.68,221.98 498.38,221.98 499.09,221.98 499.79,221.98 500.49,221.98 501.19,221.98 501.90,221.98 502.60,221.98 503.30,221.98 504.00,221.98 504.71,221.99 505.41,221.99 506.11,221.99 506.81,221.99 507.52,221.99 508.22,221.99 508.92,221.99 509.62,221.99 510.32,221.99 511.03,221.99 511.73,221.99 512.43,221.99 513.13,222.00 513.84,222.00 514.54,222.00 515.24,222.00 515.94,222.00 516.65,222.00 517.35,222.00 518.05,222.00 518.75,222.00 519.46,222.00 520.16,222.00 520.86,222.00 521.56,222.01 522.27,222.01 522.97,222.01 523.67,222.01 524.37,222.01 525.07,222.01 525.78,222.01 526.48,222.01 527.18,222.01 527.88,222.01 528.59,222.01 529.29,222.01 529.99,222.01 530.69,222.01 531.40,222.01 532.10,222.01 532.80,222.01 533.50,222.01 534.21,222.01 534.91,222.00 535.61,222.00 536.31,222.00 537.01,222.00 537.72,222.00 538.42,222.00 539.12,222.00 539.82,222.00 540.53,221.99 541.23,221.99 541.93,221.99 542.63,221.99 543.34,221.99 544.04,221.98 544.74,221.98 545.44,221.98 546.15,221.97 546.85,221.97 547.55,221.97 548.25,221.96 548.95,221.96 549.66,221.96 550.36,221.95 551.06,221.95 551.76,221.94 552.47,221.94 553.17,221.93 553.87,221.93 554.57,221.92 555.28,221.92 555.98,221.91 556.68,221.91 557.38,221.90 558.09,221.90 558.79,221.89 559.49,221.88 560.19,221.88 560.89,221.87 561.60,221.87 562.30,221.86 563.00,221.85 563.70,221.85 564.41,221.84 565.11,221.83 565.81,221.83 566.51,221.82 567.22,221.81 567.92,221.81 568.62,221.80 569.32,221.79 570.03,221.79 570.73,221.78 571.43,221.77 572.13,221.77 572.83,221.76 573.54,221.75 574.24,221.75 574.94,221.74 575.64,221.74 576.35,221.73 577.05,221.72 577.75,221.72 578.45,221.71 579.16,221.70 579.86,221.70 580.56,221.69 581.26,221.69 581.96,221.68 582.67,221.67 583.37,221.67 584.07,221.66 584.77,221.66 585.48,221.65 586.18,221.64 586.88,221.63 587.58,221.62 588.29,221.61 588.99,221.59 589.69,221.57 590.39,221.54 591.09,221.51 591.79,221.48 592.50,221.44 593.20,221.39 593.90,221.34 594.60,221.28 595.30,221.21 595.99,221.14 596.69,221.06 597.39,220.96 598.08,220.86 598.78,220.75 599.47,220.63 600.16,220.50 600.85,220.36 601.53,220.21 602.22,220.04 602.90,219.87 603.57,219.68 604.24,219.48 604.91,219.26 605.58,219.03 606.24,218.79 606.89,218.53 607.54,218.26 608.18,217.98 608.81,217.68 609.44,217.36 610.06,217.03 610.67,216.68 611.27,216.32 611.86,215.94 612.44,215.54 613.01,215.13 613.57,214.70 614.11,214.25 614.64,213.79 615.15,213.31 615.65,212.81 616.13,212.30 616.59,211.77 617.03,211.23 617.45,210.66 617.85,210.09 618.24,209.50 618.61,208.90 618.96,208.29 619.29,207.68 619.62,207.06 619.94,206.43 620.24,205.80 620.54,205.16 620.84,204.52 621.13,203.89 621.42,203.25 621.71,202.60 622.00,201.96 622.29,201.33 622.59,200.69 622.89,200.05 623.19,199.42 623.49,198.79 623.80,198.16 624.11,197.53 624.42,196.90 624.73,196.27 625.04,195.64 625.35,195.00 625.66,194.37 625.97,193.74 626.27,193.11 626.60,192.49 626.95,191.88 627.34,191.30 627.79,190.76 628.30,190.28 628.88,189.89 629.52,189.59 630.20,189.41 630.90,189.38 631.59,189.50 632.24,189.75 632.84,190.11 633.39,190.56 633.86,191.07 634.28,191.64 634.64,192.24 634.96,192.86 635.27,193.50 635.57,194.13 635.88,194.76 636.21,195.38 636.57,195.99 636.96,196.57 637.40,197.12 637.88,197.63 638.43,198.06 639.06,198.36 639.76,198.46 640.44,198.31 641.06,197.99 641.61,197.55 642.07,197.02 642.47,196.45 642.85,195.85 643.20,195.25 643.55,194.64 643.93,194.04 644.32,193.47 644.76,192.91 645.24,192.40 645.78,191.96 646.42,191.68 647.11,191.78 647.66,192.21 648.09,192.76 648.45,193.37 648.75,194.00 649.02,194.65 649.26,195.31 649.49,195.97 649.70,196.64 649.90,197.31 650.10,197.99 650.28,198.67 650.46,199.34 650.65,200.02 650.83,200.70 651.01,201.38 651.19,202.06 651.38,202.74 651.56,203.41 651.74,204.09 651.92,204.77 652.10,205.45 652.29,206.13 652.46,206.81 652.64,207.49 652.82,208.17 652.99,208.85 653.17,209.53 653.34,210.21 653.51,210.89 653.68,211.57 653.86,212.25 654.06,212.92 654.26,213.60 654.48,214.26 654.72,214.92 654.97,215.58 655.24,216.23 655.53,216.87 655.85,217.49 656.20,218.10 656.58,218.69 657.01,219.25 657.48,219.77 658.00,220.24 658.58,220.63 659.23,220.91 659.91,221.05 660.62,221.06 661.31,220.96 661.98,220.75 662.61,220.44 663.20,220.06 663.74,219.61 664.22,219.10 664.63,218.53 664.97,217.92 665.27,217.28 665.54,216.63 665.81,215.98 666.10,215.34 666.43,214.73 666.85,214.16 667.36,213.68 667.96,213.32 668.63,213.12 669.33,213.15 669.97,213.44 670.47,213.92 670.88,214.49 671.23,215.10 671.55,215.73 671.87,216.35 672.20,216.98 672.54,217.59 672.91,218.18 673.31,218.76 673.75,219.31 674.23,219.82 674.76,220.28 675.33,220.69 675.94,221.04 676.58,221.33 677.24,221.57" stroke="#484848" stroke-width="1.80"/>
<path d="M389.35,143.91 390.04,144.01 390.73,144.13 391.42,144.27 392.10,144.44 392.78,144.64 393.45,144.85 394.11,145.09 394.76,145.35 395.40,145.63 396.03,145.94 396.66,146.26 397.27,146.60 397.87,146.97 398.46,147.35 399.04,147.74 399.61,148.16 400.16,148.59 400.71,149.03 401.24,149.49 401.76,149.96 402.27,150.44 402.77,150.93 403.26,151.44 403.73,151.96 404.20,152.48 404.65,153.02 405.10,153.56 405.53,154.11 405.96,154.67 406.37,155.24 406.78,155.81 407.17,156.39 407.56,156.98 407.94,157.57 408.31,158.16 408.67,158.77 409.02,159.37 409.37,159.98 409.70,160.60 410.04,161.22 410.36,161.84 410.67,162.47 410.98,163.10 411.29,163.73 411.58,164.37 411.87,165.01 412.16,165.65 412.44,166.29 412.72,166.94 412.99,167.59 413.25,168.24 413.52,168.89 413.78,169.54 414.04,170.19 414.30,170.84 414.55,171.50 414.81,172.15 415.06,172.81 415.31,173.46 415.57,174.12 415.82,174.77 416.07,175.42 416.33,176.08 416.59,176.73 416.85,177.38 417.11,178.03 417.38,178.68 417.65,179.33 417.92,179.98 418.20,180.62 418.48,181.27 418.78,181.90 419.09,182.53 419.41,183.16 419.75,183.77 420.10,184.38 420.48,184.97 420.88,185.54 421.31,186.10 421.77,186.63 422.25,187.14 422.77,187.61 423.32,188.05 423.91,188.43 424.53,188.76 425.18,189.01 425.87,189.18 426.57,189.23 427.27,189.20 427.96,189.08 428.64,188.91 429.31,188.70 429.97,188.46 430.62,188.19 431.26,187.91 431.90,187.62 432.54,187.34 433.19,187.06 433.84,186.79 434.49,186.54 435.16,186.31 435.83,186.12 436.52,185.99 437.22,185.92 437.92,185.92 438.62,186.00 439.30,186.15 439.97,186.37 440.62,186.64 441.24,186.96 441.85,187.32 442.43,187.71 442.99,188.14 443.53,188.58 444.06,189.04 444.57,189.53 445.07,190.02 445.55,190.53 446.03,191.05 446.49,191.57 446.95,192.11 447.40,192.65 447.84,193.19 448.28,193.74 448.71,194.29 449.14,194.85 449.57,195.40 449.99,195.96 450.41,196.53 450.83,197.09 451.24,197.66 451.66,198.22 452.08,198.79 452.49,199.35 452.91,199.91 453.34,200.48 453.76,201.03 454.19,201.59 454.62,202.14 455.06,202.69 455.50,203.24 455.95,203.78 456.40,204.32 456.85,204.85 457.31,205.38 457.78,205.91 458.25,206.43 458.73,206.94 459.21,207.45 459.70,207.96 460.20,208.45 460.70,208.94 461.21,209.42 461.73,209.90 462.26,210.36 462.79,210.82 463.33,211.26 463.88,211.70 464.44,212.12 465.01,212.53 465.59,212.93 466.17,213.32 466.77,213.70 467.37,214.06 467.98,214.40 468.60,214.74 469.22,215.06 469.85,215.37 470.49,215.67 471.13,215.96 471.77,216.23 472.43,216.49 473.08,216.74 473.74,216.98 474.40,217.21 475.07,217.44 475.74,217.65 476.41,217.85 477.09,218.04 477.76,218.23 478.44,218.40 479.12,218.57 479.81,218.73 480.49,218.89 481.18,219.04 481.87,219.18 482.56,219.31 483.25,219.44 483.94,219.57 484.63,219.69 485.32,219.81 486.01,219.92 486.71,220.03 487.40,220.14 488.10,220.24 488.79,220.33 489.49,220.43 490.18,220.52 490.88,220.61 491.58,220.69 492.27,220.77 492.97,220.85 493.67,220.92 494.37,220.99 495.07,221.06 495.77,221.12 496.47,221.18 497.17,221.24 497.87,221.29 498.57,221.35 499.27,221.40 499.97,221.44 500.67,221.49 501.37,221.53 502.07,221.57 502.77,221.60 503.47,221.64 504.17,221.67 504.87,221.70 505.57,221.73 506.28,221.76 506.98,221.78 507.68,221.80 508.38,221.82 509.08,221.84 509.79,221.86 510.49,221.87 511.19,221.88 511.89,221.90 512.59,221.91 513.30,221.92 514.00,221.92 514.70,221.93 515.40,221.93 516.10,221.94 516.81,221.94 517.51,221.94 518.21,221.95 518.91,221.95 519.61,221.95 520.32,221.94 521.02,221.94 521.72,221.94 522.42,221.94 523.12,221.93 523.83,221.93 524.53,221.93 525.23,221.92 525.93,221.92 526.63,221.91 527.34,221.91 528.04,221.90 528.74,221.90 529.44,221.90 530.14,221.89 530.85,221.89 531.55,221.88 532.25,221.88 532.95,221.88 533.65,221.88 534.36,221.88 535.06,221.87 535.76,221.87 536.46,221.87 537.16,221.87 537.87,221.87 538.57,221.87 539.27,221.87 539.97,221.86 540.68,221.86 541.38,221.86 542.08,221.86 542.78,221.85 543.48,221.85 544.19,221.85 544.89,221.84 545.59,221.84 546.29,221.84 546.99,221.83 547.70,221.82 548.40,221.82 549.10,221.81 549.80,221.80 550.50,221.79 551.21,221.78 551.91,221.77 552.61,221.76 553.31,221.75 554.01,221.73 554.72,221.72 555.42,221.70 556.12,221.68 556.82,221.66 557.52,221.64 558.22,221.62 558.93,221.60 559.63,221.57 560.33,221.54 561.03,221.52 561.73,221.49 562.43,221.46 563.13,221.42 563.84,221.39 564.54,221.35 565.24,221.31 565.94,221.27 566.64,221.23 567.34,221.18 568.04,221.14 568.74,221.09 569.44,221.04 570.14,220.99 570.84,220.93 571.54,220.87 572.24,220.81 572.94,220.75 573.64,220.68 574.34,220.62 575.04,220.55 575.73,220.47 576.43,220.40 577.13,220.32 577.83,220.24 578.52,220.16 579.22,220.07 579.92,219.98 580.61,219.89 581.31,219.79 582.00,219.70 582.70,219.60 583.39,219.49 584.09,219.38 584.78,219.26 585.47,219.14 586.16,219.01 586.85,218.87 587.53,218.72 588.22,218.56 588.90,218.39 589.58,218.21 590.25,218.02 590.92,217.81 591.59,217.59 592.25,217.35 592.90,217.10 593.55,216.83 594.20,216.55 594.84,216.26 595.47,215.96 596.10,215.64 596.71,215.31 597.33,214.96 597.93,214.61 598.53,214.24 599.12,213.86 599.70,213.47 600.28,213.06 600.84,212.65 601.40,212.22 601.95,211.79 602.49,211.34 603.03,210.88 603.55,210.42 604.07,209.94 604.58,209.46 605.08,208.97 605.58,208.48 606.07,207.97 606.55,207.46 607.03,206.94 607.49,206.42 607.96,205.89 608.41,205.36 608.86,204.82 609.31,204.28 609.75,203.73 610.19,203.18 610.62,202.63 611.05,202.07 611.47,201.51 611.89,200.95 612.30,200.38 612.71,199.81 613.12,199.24 613.53,198.67 613.93,198.10 614.34,197.52 614.74,196.94 615.13,196.37 615.53,195.79 615.93,195.21 616.33,194.63 616.73,194.05 617.12,193.47 617.53,192.90 617.93,192.32 618.33,191.75 618.74,191.18 619.16,190.61 619.57,190.05 619.99,189.49 620.42,188.93 620.85,188.37 621.29,187.82 621.73,187.28 622.18,186.74 622.64,186.21 623.10,185.68 623.58,185.17 624.07,184.66 624.57,184.17 625.08,183.69 625.61,183.22 626.15,182.78 626.71,182.35 627.29,181.95 627.88,181.58 628.50,181.24 629.13,180.94 629.78,180.68 630.45,180.46 631.13,180.29 631.82,180.16 632.51,180.08 633.22,180.03 633.92,180.03 634.62,180.06 635.32,180.13 636.01,180.24 636.70,180.37 637.38,180.54 638.06,180.74 638.72,180.96 639.38,181.21 640.02,181.49 640.66,181.79 641.28,182.11 641.89,182.46 642.49,182.82 643.07,183.21 643.65,183.62 644.20,184.05 644.74,184.50 645.27,184.96 645.78,185.45 646.26,185.95 646.73,186.47 647.18,187.01 647.61,187.57 648.02,188.14 648.41,188.73 648.78,189.32 649.13,189.93 649.47,190.54 649.80,191.16 650.12,191.79 650.42,192.42 650.72,193.06 651.01,193.69 651.30,194.34 651.58,194.98 651.86,195.62 652.15,196.26 652.43,196.91 652.72,197.55 653.01,198.19 653.31,198.82 653.62,199.45 653.93,200.08 654.26,200.70 654.59,201.32 654.93,201.93 655.29,202.54 655.65,203.14 656.02,203.73 656.40,204.32 656.80,204.90 657.20,205.48 657.62,206.04 658.04,206.60 658.48,207.15 658.93,207.69 659.39,208.22 659.87,208.73 660.35,209.24 660.85,209.74 661.36,210.22 661.88,210.69 662.41,211.16 662.94,211.61 663.48,212.06 664.03,212.50 664.57,212.94 665.12,213.38 665.68,213.81 666.23,214.25 666.78,214.68 667.33,215.11 667.88,215.55 668.43,215.99 668.97,216.43 669.51,216.88 670.06,217.33 670.60,217.77 671.15,218.21 671.70,218.65 672.25,219.08 672.81,219.50 673.39,219.91 673.97,220.30 674.56,220.68 675.16,221.05 675.77,221.39 676.39,221.71" stroke="#e8474d" stroke-width="1.80"/>
<path d="M389.06,102.15 389.68,101.82 390.31,101.52 390.96,101.25 391.62,101.02 392.30,100.82 392.98,100.66 393.67,100.55 394.37,100.48 395.07,100.45 395.77,100.47 396.47,100.54 397.16,100.65 397.85,100.81 398.52,101.01 399.18,101.24 399.83,101.51 400.46,101.81 401.08,102.15 401.68,102.51 402.27,102.89 402.84,103.30 403.39,103.72 403.94,104.17 404.46,104.63 404.98,105.11 405.48,105.60 405.97,106.10 406.45,106.61 406.92,107.13 407.37,107.67 407.82,108.21 408.26,108.76 408.68,109.31 409.10,109.87 409.51,110.44 409.92,111.02 410.31,111.60 410.70,112.18 411.08,112.77 411.45,113.37 411.82,113.97 412.17,114.57 412.52,115.18 412.87,115.79 413.21,116.40 413.54,117.02 413.86,117.64 414.18,118.27 414.49,118.90 414.80,119.53 415.10,120.16 415.39,120.80 415.69,121.43 415.97,122.08 416.25,122.72 416.53,123.36 416.81,124.01 417.08,124.65 417.35,125.30 417.61,125.95 417.87,126.60 418.13,127.25 418.39,127.90 418.65,128.56 418.91,129.21 419.16,129.86 419.41,130.52 419.67,131.17 419.92,131.83 420.17,132.48 420.43,133.13 420.68,133.79 420.94,134.44 421.20,135.09 421.45,135.75 421.72,136.40 421.98,137.05 422.24,137.70 422.51,138.34 422.79,138.99 423.06,139.63 423.34,140.28 423.63,140.92 423.92,141.55 424.22,142.19 424.53,142.82 424.84,143.45 425.16,144.07 425.48,144.70 425.82,145.31 426.16,145.92 426.51,146.53 426.87,147.13 427.25,147.73 427.63,148.31 428.02,148.90 428.42,149.47 428.84,150.04 429.26,150.59 429.70,151.14 430.15,151.68 430.60,152.21 431.07,152.74 431.54,153.26 432.02,153.77 432.50,154.28 432.99,154.78 433.48,155.28 433.97,155.78 434.47,156.28 434.97,156.77 435.46,157.27 435.96,157.77 436.45,158.26 436.95,158.76 437.44,159.26 437.93,159.76 438.42,160.27 438.91,160.77 439.39,161.28 439.88,161.78 440.36,162.29 440.84,162.80 441.32,163.32 441.79,163.83 442.26,164.35 442.74,164.87 443.20,165.40 443.67,165.92 444.13,166.45 444.59,166.98 445.05,167.51 445.50,168.05 445.95,168.58 446.40,169.12 446.84,169.67 447.28,170.21 447.72,170.76 448.15,171.32 448.58,171.87 449.00,172.43 449.42,172.99 449.84,173.55 450.26,174.12 450.67,174.68 451.08,175.25 451.49,175.82 451.90,176.40 452.30,176.97 452.70,177.54 453.10,178.12 453.50,178.70 453.89,179.28 454.29,179.86 454.68,180.44 455.08,181.02 455.47,181.60 455.86,182.18 456.25,182.76 456.64,183.34 457.04,183.93 457.43,184.51 457.82,185.09 458.21,185.67 458.60,186.25 459.00,186.83 459.39,187.41 459.79,187.99 460.18,188.57 460.58,189.15 460.98,189.73 461.38,190.30 461.79,190.88 462.19,191.45 462.60,192.02 463.01,192.59 463.42,193.16 463.84,193.72 464.25,194.28 464.68,194.84 465.10,195.40 465.53,195.96 465.96,196.51 466.39,197.06 466.83,197.61 467.28,198.15 467.72,198.69 468.18,199.23 468.63,199.76 469.09,200.29 469.56,200.81 470.03,201.33 470.51,201.85 470.99,202.36 471.48,202.86 471.97,203.36 472.47,203.86 472.97,204.34 473.48,204.82 474.00,205.30 474.52,205.77 475.05,206.23 475.59,206.68 476.13,207.13 476.68,207.56 477.23,207.99 477.79,208.41 478.36,208.83 478.93,209.23 479.51,209.63 480.09,210.02 480.68,210.40 481.28,210.77 481.87,211.14 482.48,211.49 483.09,211.84 483.70,212.18 484.32,212.52 484.94,212.84 485.56,213.16 486.19,213.47 486.82,213.78 487.46,214.07 488.10,214.36 488.74,214.65 489.39,214.92 490.03,215.19 490.68,215.45 491.34,215.71 491.99,215.95 492.65,216.20 493.31,216.43 493.98,216.66 494.64,216.88 495.31,217.10 495.98,217.31 496.65,217.52 497.32,217.72 497.99,217.91 498.67,218.10 499.35,218.28 500.03,218.46 500.71,218.63 501.39,218.79 502.07,218.95 502.75,219.11 503.44,219.26 504.13,219.41 504.81,219.55 505.50,219.68 506.19,219.82 506.88,219.94 507.57,220.07 508.26,220.18 508.95,220.30 509.65,220.41 510.34,220.51 511.03,220.61 511.73,220.71 512.42,220.80 513.12,220.89 513.82,220.98 514.51,221.06 515.21,221.14 515.91,221.21 516.60,221.28 517.30,221.35 518.00,221.41 518.70,221.48 519.40,221.53 520.10,221.59 520.80,221.64 521.50,221.68 522.20,221.72 522.90,221.76 523.60,221.80 524.30,221.83 525.00,221.86 525.70,221.89 526.40,221.91 527.10,221.93 527.81,221.94 528.51,221.96 529.21,221.96 529.91,221.97 530.61,221.97 531.31,221.97 532.01,221.97 532.71,221.96 533.42,221.95 534.12,221.93 534.82,221.91 535.52,221.89 536.22,221.87 536.92,221.84 537.62,221.81 538.32,221.77 539.02,221.73 539.72,221.69 540.42,221.65 541.12,221.60 541.82,221.55 542.52,221.50 543.22,221.44 543.92,221.38 544.62,221.32 545.32,221.25 546.01,221.18 546.71,221.11 547.41,221.03 548.11,220.95 548.80,220.87 549.50,220.79 550.20,220.70 550.89,220.61 551.59,220.52 552.28,220.42 552.98,220.32 553.67,220.22 554.36,220.11 555.06,220.01 555.75,219.89 556.44,219.78 557.13,219.67 557.82,219.55 558.52,219.43 559.21,219.30 559.90,219.18 560.58,219.05 561.27,218.91 561.96,218.78 562.65,218.64 563.34,218.50 564.02,218.36 564.71,218.22 565.40,218.07 566.08,217.92 566.77,217.77 567.45,217.62 568.14,217.46 568.82,217.30 569.50,217.14 570.18,216.98 570.86,216.81 571.55,216.64 572.23,216.47 572.91,216.30 573.58,216.12 574.26,215.94 574.94,215.76 575.62,215.58 576.29,215.39 576.97,215.19 577.64,215.00 578.31,214.80 578.98,214.59 579.65,214.38 580.32,214.16 580.98,213.94 581.65,213.72 582.31,213.49 582.97,213.25 583.63,213.01 584.28,212.76 584.94,212.50 585.59,212.24 586.24,211.97 586.88,211.69 587.52,211.41 588.16,211.12 588.79,210.82 589.42,210.51 590.05,210.19 590.67,209.87 591.29,209.53 591.90,209.19 592.51,208.84 593.11,208.48 593.70,208.11 594.29,207.73 594.87,207.33 595.45,206.93 596.02,206.52 596.58,206.11 597.14,205.68 597.69,205.24 598.23,204.80 598.77,204.34 599.29,203.88 599.82,203.42 600.33,202.94 600.84,202.46 601.35,201.97 601.84,201.48 602.34,200.97 602.82,200.47 603.30,199.96 603.77,199.44 604.24,198.92 604.71,198.39 605.16,197.86 605.62,197.32 606.06,196.78 606.51,196.24 606.95,195.69 607.38,195.14 607.81,194.59 608.24,194.03 608.66,193.47 609.08,192.91 609.49,192.34 609.91,191.78 610.31,191.21 610.72,190.63 611.12,190.06 611.52,189.48 611.92,188.90 612.32,188.33 612.71,187.74 613.10,187.16 613.49,186.58 613.88,186.00 614.27,185.41 614.66,184.83 615.06,184.25 615.45,183.67 615.85,183.10 616.25,182.52 616.66,181.95 617.07,181.38 617.48,180.81 617.91,180.25 618.34,179.70 618.77,179.15 619.22,178.61 619.67,178.07 620.13,177.55 620.61,177.03 621.09,176.52 621.59,176.03 622.10,175.55 622.62,175.08 623.16,174.63 623.71,174.19 624.27,173.78 624.85,173.38 625.45,173.01 626.06,172.66 626.68,172.34 627.32,172.05 627.97,171.78 628.63,171.55 629.30,171.34 629.98,171.17 630.66,171.03 631.36,170.91 632.05,170.83 632.75,170.78 633.45,170.77 634.16,170.78 634.86,170.83 635.55,170.92 636.24,171.03 636.93,171.19 637.60,171.38 638.27,171.60 638.92,171.86 639.56,172.15 640.18,172.47 640.80,172.81 641.40,173.17 641.99,173.55 642.56,173.95 643.13,174.37 643.68,174.80 644.22,175.25 644.75,175.70 645.27,176.17 645.79,176.65 646.29,177.13 646.79,177.63 647.28,178.13 647.77,178.64 648.24,179.15 648.71,179.67 649.18,180.20 649.63,180.73 650.08,181.27 650.52,181.82 650.96,182.37 651.39,182.92 651.81,183.48 652.23,184.04 652.64,184.61 653.05,185.18 653.45,185.76 653.85,186.34 654.24,186.92 654.63,187.50 655.01,188.09 655.39,188.68 655.76,189.27 656.13,189.87 656.50,190.47 656.87,191.07 657.23,191.67 657.59,192.27 657.94,192.87 658.30,193.48 658.65,194.08 659.00,194.69 659.35,195.30 659.70,195.91 660.05,196.52 660.39,197.13 660.74,197.74 661.09,198.35 661.43,198.96 661.78,199.57 662.13,200.18 662.48,200.78 662.83,201.39 663.18,202.00 663.53,202.60 663.89,203.21 664.25,203.81 664.61,204.41 664.97,205.01 665.34,205.61 665.71,206.20 666.09,206.79 666.48,207.38 666.87,207.96 667.26,208.54 667.67,209.12 668.07,209.69 668.49,210.25 668.92,210.81 669.35,211.36 669.79,211.91 670.24,212.45 670.70,212.98 671.16,213.50 671.64,214.02 672.12,214.52 672.62,215.02 673.12,215.51 673.64,215.99 674.16,216.45 674.69,216.91 675.23,217.36 675.78,217.79 676.34,218.21" stroke="#2a72dc" stroke-width="1.90"/>
<path d="M389.08,57.13 389.62,56.67 390.17,56.24 390.75,55.84 391.34,55.46 391.95,55.12 392.58,54.80 393.22,54.53 393.88,54.29 394.56,54.10 395.24,53.95 395.94,53.84 396.64,53.79 397.34,53.77 398.04,53.81 398.74,53.89 399.43,54.01 400.11,54.17 400.79,54.37 401.45,54.60 402.10,54.87 402.73,55.16 403.36,55.49 403.97,55.83 404.57,56.20 405.15,56.59 405.72,57.00 406.28,57.43 406.83,57.87 407.36,58.32 407.88,58.79 408.39,59.27 408.89,59.77 409.38,60.27 409.86,60.79 410.33,61.31 410.78,61.84 411.23,62.38 411.67,62.93 412.10,63.49 412.52,64.05 412.92,64.62 413.32,65.20 413.71,65.78 414.10,66.37 414.47,66.97 414.83,67.57 415.19,68.17 415.53,68.78 415.87,69.40 416.20,70.02 416.53,70.64 416.84,71.27 417.15,71.90 417.46,72.53 417.75,73.17 418.05,73.80 418.33,74.45 418.61,75.09 418.89,75.73 419.16,76.38 419.43,77.03 419.70,77.68 419.96,78.33 420.23,78.98 420.48,79.63 420.74,80.29 421.00,80.94 421.25,81.59 421.51,82.25 421.76,82.90 422.02,83.56 422.27,84.21 422.53,84.86 422.79,85.52 423.05,86.17 423.31,86.82 423.57,87.47 423.83,88.12 424.10,88.77 424.37,89.42 424.64,90.07 424.91,90.72 425.18,91.37 425.45,92.01 425.72,92.66 426.00,93.30 426.27,93.95 426.55,94.59 426.83,95.24 427.11,95.88 427.39,96.53 427.67,97.17 427.96,97.81 428.24,98.45 428.53,99.09 428.81,99.73 429.10,100.38 429.39,101.01 429.68,101.65 429.97,102.29 430.27,102.93 430.56,103.57 430.85,104.21 431.15,104.84 431.45,105.48 431.74,106.12 432.04,106.75 432.34,107.39 432.64,108.02 432.94,108.65 433.24,109.29 433.55,109.92 433.85,110.55 434.15,111.19 434.46,111.82 434.77,112.45 435.07,113.08 435.38,113.71 435.69,114.34 436.00,114.97 436.31,115.60 436.62,116.23 436.93,116.86 437.24,117.49 437.55,118.12 437.87,118.75 438.18,119.38 438.50,120.00 438.81,120.63 439.13,121.26 439.44,121.89 439.76,122.51 440.08,123.14 440.40,123.76 440.71,124.39 441.03,125.02 441.35,125.64 441.67,126.27 441.99,126.89 442.31,127.51 442.63,128.14 442.96,128.76 443.28,129.39 443.60,130.01 443.92,130.63 444.25,131.26 444.57,131.88 444.89,132.50 445.22,133.13 445.54,133.75 445.87,134.37 446.19,134.99 446.52,135.62 446.84,136.24 447.17,136.86 447.49,137.48 447.82,138.10 448.15,138.72 448.47,139.35 448.80,139.97 449.13,140.59 449.45,141.21 449.78,141.83 450.11,142.45 450.44,143.07 450.77,143.69 451.10,144.31 451.43,144.93 451.76,145.55 452.09,146.17 452.42,146.79 452.75,147.41 453.09,148.02 453.42,148.64 453.75,149.26 454.09,149.88 454.42,150.49 454.75,151.11 455.09,151.73 455.43,152.35 455.76,152.96 456.10,153.58 456.43,154.19 456.77,154.81 457.11,155.43 457.45,156.04 457.79,156.65 458.13,157.27 458.47,157.88 458.81,158.50 459.15,159.11 459.49,159.72 459.83,160.34 460.18,160.95 460.52,161.56 460.87,162.17 461.21,162.78 461.56,163.40 461.90,164.01 462.25,164.62 462.60,165.23 462.94,165.84 463.29,166.45 463.64,167.05 463.99,167.66 464.34,168.27 464.69,168.88 465.05,169.49 465.40,170.09 465.75,170.70 466.11,171.31 466.46,171.91 466.82,172.52 467.18,173.12 467.53,173.73 467.89,174.33 468.25,174.93 468.61,175.54 468.97,176.14 469.33,176.74 469.69,177.34 470.05,177.94 470.42,178.54 470.78,179.14 471.15,179.74 471.51,180.34 471.88,180.94 472.25,181.54 472.62,182.14 472.98,182.73 473.36,183.33 473.73,183.93 474.10,184.52 474.47,185.12 474.84,185.71 475.22,186.31 475.59,186.90 475.97,187.49 476.35,188.08 476.74,188.67 477.12,189.25 477.51,189.84 477.90,190.42 478.30,191.00 478.70,191.58 479.11,192.15 479.52,192.72 479.94,193.28 480.36,193.84 480.79,194.40 481.23,194.95 481.67,195.49 482.12,196.03 482.58,196.56 483.04,197.09 483.52,197.61 484.00,198.12 484.49,198.62 484.98,199.12 485.48,199.61 485.99,200.10 486.50,200.58 487.02,201.05 487.54,201.52 488.06,201.99 488.59,202.45 489.12,202.91 489.66,203.37 490.19,203.82 490.73,204.27 491.27,204.72 491.81,205.17 492.35,205.61 492.90,206.06 493.44,206.50 493.99,206.94 494.54,207.37 495.09,207.81 495.65,208.24 496.20,208.67 496.76,209.10 497.32,209.52 497.88,209.94 498.45,210.36 499.01,210.77 499.59,211.18 500.16,211.58 500.73,211.98 501.31,212.38 501.90,212.77 502.48,213.16 503.07,213.54 503.66,213.92 504.26,214.29 504.86,214.66 505.46,215.01 506.07,215.37 506.68,215.72 507.29,216.06 507.91,216.39 508.53,216.71 509.16,217.03 509.79,217.34 510.42,217.64 511.06,217.93 511.70,218.22 512.35,218.49 513.00,218.75 513.66,219.01 514.32,219.25 514.98,219.48 515.65,219.70 516.32,219.91 516.99,220.11 517.67,220.29 518.35,220.47 519.03,220.63 519.71,220.79 520.40,220.93 521.09,221.06 521.78,221.19 522.47,221.30 523.17,221.40 523.86,221.49 524.56,221.57 525.26,221.64 525.96,221.70 526.66,221.75 527.36,221.80 528.06,221.83 528.76,221.85 529.46,221.86 530.17,221.87 530.87,221.86 531.57,221.85 532.27,221.83 532.97,221.80 533.67,221.76 534.38,221.71 535.08,221.66 535.77,221.59 536.47,221.52 537.17,221.45 537.87,221.36 538.56,221.27 539.26,221.17 539.95,221.06 540.65,220.95 541.34,220.83 542.03,220.70 542.72,220.57 543.41,220.43 544.09,220.29 544.78,220.14 545.46,219.98 546.15,219.82 546.83,219.66 547.51,219.48 548.19,219.31 548.87,219.12 549.54,218.94 550.22,218.74 550.89,218.55 551.56,218.34 552.23,218.14 552.90,217.93 553.57,217.71 554.24,217.49 554.90,217.27 555.57,217.04 556.23,216.81 556.89,216.57 557.55,216.33 558.21,216.09 558.87,215.84 559.52,215.59 560.18,215.34 560.83,215.08 561.48,214.82 562.13,214.56 562.78,214.29 563.43,214.02 564.08,213.75 564.72,213.47 565.37,213.19 566.01,212.91 566.65,212.63 567.29,212.34 567.93,212.05 568.57,211.75 569.20,211.45 569.84,211.15 570.47,210.85 571.10,210.54 571.73,210.23 572.36,209.92 572.99,209.60 573.61,209.28 574.23,208.96 574.86,208.63 575.47,208.30 576.09,207.96 576.71,207.63 577.32,207.28 577.93,206.94 578.54,206.59 579.15,206.24 579.75,205.88 580.36,205.52 580.96,205.16 581.56,204.79 582.15,204.42 582.75,204.05 583.34,203.67 583.93,203.29 584.52,202.91 585.10,202.52 585.68,202.12 586.26,201.73 586.84,201.33 587.41,200.92 587.98,200.51 588.55,200.10 589.11,199.68 589.68,199.26 590.24,198.84 590.79,198.41 591.35,197.98 591.90,197.54 592.44,197.10 592.99,196.66 593.53,196.21 594.07,195.76 594.60,195.31 595.13,194.85 595.66,194.38 596.18,193.91 596.70,193.44 597.22,192.97 597.73,192.49 598.24,192.01 598.75,191.52 599.25,191.03 599.75,190.53 600.24,190.03 600.73,189.53 601.22,189.02 601.70,188.51 602.18,188.00 602.65,187.48 603.12,186.96 603.59,186.43 604.05,185.91 604.50,185.37 604.96,184.84 605.40,184.30 605.85,183.75 606.29,183.20 606.72,182.65 607.15,182.10 607.58,181.54 608.01,180.99 608.43,180.43 608.86,179.87 609.28,179.30 609.70,178.74 610.12,178.18 610.54,177.62 610.96,177.06 611.39,176.50 611.82,175.94 612.25,175.39 612.68,174.84 613.12,174.29 613.56,173.74 614.01,173.20 614.46,172.66 614.92,172.13 615.38,171.60 615.85,171.08 616.33,170.57 616.81,170.06 617.31,169.56 617.81,169.07 618.32,168.59 618.84,168.11 619.36,167.65 619.90,167.20 620.44,166.76 621.00,166.33 621.56,165.91 622.14,165.50 622.72,165.11 623.31,164.73 623.91,164.37 624.53,164.03 625.15,163.70 625.78,163.40 626.42,163.11 627.07,162.85 627.73,162.61 628.40,162.40 629.08,162.22 629.76,162.06 630.46,161.95 631.15,161.86 631.85,161.82 632.56,161.82 633.26,161.86 633.95,161.94 634.65,162.06 635.33,162.22 636.00,162.41 636.67,162.64 637.32,162.89 637.97,163.17 638.60,163.47 639.22,163.80 639.83,164.14 640.44,164.51 641.03,164.88 641.61,165.28 642.18,165.68 642.74,166.10 643.30,166.53 643.85,166.97 644.38,167.42 644.91,167.88 645.44,168.35 645.95,168.83 646.46,169.32 646.95,169.81 647.44,170.32 647.93,170.83 648.40,171.34 648.87,171.87 649.33,172.40 649.78,172.93 650.23,173.47 650.67,174.02 651.10,174.57 651.53,175.13 651.95,175.69 652.37,176.26 652.78,176.82 653.19,177.40 653.59,177.97 653.99,178.55 654.38,179.13 654.77,179.72 655.15,180.30 655.54,180.89 655.91,181.48 656.29,182.08 656.66,182.67 657.04,183.27 657.40,183.86 657.77,184.46 658.14,185.06 658.50,185.66 658.87,186.26 659.23,186.86 659.59,187.46 659.96,188.06 660.32,188.66 660.68,189.26 661.05,189.86 661.42,190.46 661.78,191.06 662.15,191.66 662.52,192.26 662.90,192.85 663.27,193.44 663.65,194.04 664.02,194.63 664.40,195.22 664.79,195.81 665.17,196.40 665.55,196.98 665.94,197.57 666.33,198.15 666.72,198.73 667.12,199.32 667.51,199.90 667.91,200.47 668.31,201.05 668.71,201.63 669.12,202.20 669.52,202.77 669.93,203.34 670.34,203.91 670.75,204.48 671.17,205.05 671.59,205.61 672.00,206.18 672.43,206.74 672.85,207.30 673.27,207.86 673.70,208.41 674.13,208.97 674.56,209.52 675.00,210.07 675.43,210.62 675.87,211.17 676.31,211.72" stroke="#47ad73" stroke-width="1.80"/>
</g>
<rect x="388.47" y="10.50" width="289.03" height="232.50" fill="none" stroke="#000" stroke-width="1.6"/>
<path d="M383.87,222.00H388.47M385.87,195.56H388.47M383.87,169.12H388.47M385.87,142.68H388.47M383.87,116.24H388.47M385.87,89.80H388.47M383.87,63.36H388.47M385.87,36.92H388.47M383.87,10.48H388.47M388.47,243.00V247.40M460.73,243.00V247.40M532.99,243.00V247.40M605.24,243.00V247.40M677.50,243.00V247.40" stroke="#000" stroke-width="1.4" fill="none"/>
<g font-family="'Liberation Serif', serif" font-weight="bold" font-size="11.2" fill="#000"><text transform="translate(382.27,225.40) scale(1,1.2)" text-anchor="end">0</text><text transform="translate(382.27,172.52) scale(1,1.2)" text-anchor="end">4</text><text transform="translate(382.27,119.64) scale(1,1.2)" text-anchor="end">8</text><text transform="translate(382.27,66.76) scale(1,1.2)" text-anchor="end">12</text><text transform="translate(379.60,13.88) scale(1,1.2)" text-anchor="end">16</text></g>
<g font-family="'Liberation Serif', serif" font-weight="bold" font-size="10" fill="#000"><text x="388.47" y="258.60" text-anchor="middle">-0.8</text><text x="460.73" y="258.60" text-anchor="middle">-0.4</text><text x="532.99" y="258.60" text-anchor="middle">0.0</text><text x="605.24" y="258.60" text-anchor="middle">0.4</text><text x="677.50" y="258.60" text-anchor="middle">0.8</text></g>
<text x="351.20" y="13.10" font-family="'Liberation Serif', serif" font-weight="bold" font-size="13">(b)</text>
<text x="532.90" y="277.60" text-anchor="middle" font-family="'Liberation Serif', serif" font-weight="bold" font-size="12">&#956;(eV)</text>
<text transform="translate(366.60,126.20) rotate(-90)" text-anchor="middle" font-family="'Liberation Serif', serif" font-weight="bold" font-size="12.25">PF/&#964;(10<tspan font-size="8" dy="-4.5">10</tspan><tspan dy="4.5">W/mK</tspan><tspan font-size="8" dy="-4.5">2</tspan><tspan dy="4.5">s)</tspan></text>
<line x1="612.20" y1="18.90" x2="639.80" y2="18.90" stroke="#6e6e6e" stroke-width="1.80"/>
<text x="642.60" y="22.92" font-family="'Liberation Serif', serif" font-weight="bold" font-size="12">300K</text>
<line x1="612.20" y1="33.90" x2="639.80" y2="33.90" stroke="#ee676c" stroke-width="1.80"/>
<text x="642.60" y="37.92" font-family="'Liberation Serif', serif" font-weight="bold" font-size="12">500K</text>
<line x1="612.20" y1="49.40" x2="639.80" y2="49.40" stroke="#2f7bde" stroke-width="1.90"/>
<text x="642.60" y="53.42" font-family="'Liberation Serif', serif" font-weight="bold" font-size="12">700K</text>
<line x1="612.20" y1="64.10" x2="639.80" y2="64.10" stroke="#58b983" stroke-width="1.80"/>
<text x="642.60" y="68.12" font-family="'Liberation Serif', serif" font-weight="bold" font-size="12">900K</text>
<clipPath id="clipc"><rect x="35.47" y="307.70" width="289.03" height="232.40"/></clipPath>
<g clip-path="url(#clipc)" fill="none" stroke-linejoin="round" stroke-linecap="round">
<path d="M36.30,487.30 36.58,487.95 36.84,488.60 37.08,489.26 37.30,489.93 37.51,490.60 37.71,491.27 37.91,491.94 38.11,492.62 38.33,493.28 38.56,493.95 38.81,494.61 39.08,495.25 39.38,495.89 39.72,496.50 40.12,497.08 40.61,497.58 41.24,497.88 41.93,497.80 42.55,497.47 43.10,497.04 43.61,496.56 44.10,496.05 44.58,495.54 45.07,495.03 45.56,494.54 46.08,494.07 46.65,493.65 47.29,493.37 47.98,493.40 48.57,493.77 49.04,494.29 49.45,494.87 49.81,495.47 50.15,496.08 50.47,496.71 50.76,497.35 51.04,497.99 51.29,498.65 51.53,499.31 51.75,499.97 51.96,500.65 52.16,501.32 52.35,502.00 52.53,502.67 52.71,503.35 52.89,504.03 53.08,504.71 53.26,505.39 53.46,506.06 53.66,506.73 53.87,507.40 54.09,508.07 54.33,508.73 54.59,509.38 54.86,510.03 55.15,510.67 55.46,511.30 55.79,511.92 56.14,512.53 56.52,513.12 56.92,513.70 57.34,514.26 57.79,514.80 58.28,515.30 58.83,515.74 59.47,516.02 60.17,516.04 60.83,515.81 61.44,515.46 61.99,515.03 62.51,514.55 62.99,514.05 63.45,513.52 63.89,512.96 64.29,512.39 64.66,511.79 65.01,511.18 65.32,510.55 65.62,509.92 65.90,509.27 66.17,508.62 66.43,507.97 66.69,507.32 66.94,506.66 67.20,506.01 67.46,505.36 67.73,504.71 68.02,504.07 68.32,503.43 68.64,502.81 68.98,502.19 69.35,501.60 69.75,501.02 70.18,500.47 70.65,499.95 71.17,499.47 71.72,499.04 72.31,498.66 72.94,498.34 73.59,498.08 74.27,497.90 74.96,497.79 75.66,497.77 76.36,497.85 77.04,498.04 77.67,498.34 78.25,498.73 78.76,499.22 79.22,499.75 79.65,500.31 80.06,500.88 80.47,501.44 80.90,502.00 81.33,502.56 81.77,503.10 82.22,503.64 82.68,504.17 83.15,504.70 83.62,505.22 84.10,505.73 84.58,506.24 85.07,506.75 85.56,507.25 86.05,507.75 86.55,508.25 87.04,508.74 87.54,509.24 88.05,509.73 88.55,510.21 89.07,510.69 89.58,511.17 90.11,511.64 90.64,512.09 91.18,512.54 91.73,512.98 92.29,513.41 92.86,513.82 93.43,514.22 94.02,514.60 94.62,514.97 95.23,515.31 95.86,515.64 96.49,515.94 97.14,516.21 97.80,516.46 98.46,516.68 99.13,516.89 99.81,517.06 100.50,517.22 101.19,517.36 101.88,517.49 102.57,517.59 103.27,517.69 103.96,517.77 104.66,517.84 105.36,517.91 106.06,517.96 106.76,518.01 107.46,518.06 108.17,518.10 108.87,518.15 109.57,518.19 110.27,518.22 110.97,518.26 111.67,518.29 112.37,518.33 113.08,518.36 113.78,518.39 114.48,518.42 115.18,518.44 115.88,518.47 116.58,518.49 117.29,518.51 117.99,518.53 118.69,518.55 119.39,518.57 120.09,518.59 120.80,518.60 121.50,518.62 122.20,518.63 122.90,518.65 123.61,518.66 124.31,518.67 125.01,518.68 125.71,518.69 126.41,518.70 127.12,518.70 127.82,518.71 128.52,518.72 129.22,518.72 129.93,518.73 130.63,518.74 131.33,518.74 132.03,518.74 132.74,518.75 133.44,518.75 134.14,518.76 134.84,518.76 135.55,518.76 136.25,518.77 136.95,518.77 137.65,518.77 138.35,518.77 139.06,518.78 139.76,518.78 140.46,518.78 141.16,518.78 141.87,518.78 142.57,518.78 143.27,518.78 143.97,518.78 144.68,518.79 145.38,518.79 146.08,518.79 146.78,518.79 147.49,518.79 148.19,518.79 148.89,518.79 149.59,518.79 150.29,518.78 151.00,518.78 151.70,518.78 152.40,518.78 153.10,518.78 153.81,518.78 154.51,518.78 155.21,518.78 155.91,518.78 156.62,518.78 157.32,518.77 158.02,518.77 158.72,518.77 159.43,518.77 160.13,518.77 160.83,518.77 161.53,518.76 162.23,518.76 162.94,518.76 163.64,518.76 164.34,518.76 165.04,518.76 165.75,518.75 166.45,518.75 167.15,518.75 167.85,518.75 168.56,518.75 169.26,518.75 169.96,518.75 170.66,518.74 171.36,518.74 172.07,518.74 172.77,518.74 173.47,518.74 174.17,518.74 174.88,518.74 175.58,518.74 176.28,518.74 176.98,518.73 177.69,518.73 178.39,518.73 179.09,518.73 179.79,518.73 180.50,518.73 181.20,518.73 181.90,518.73 182.60,518.73 183.30,518.74 184.01,518.74 184.71,518.74 185.41,518.74 186.11,518.74 186.82,518.74 187.52,518.74 188.22,518.74 188.92,518.75 189.63,518.75 190.33,518.75 191.03,518.75 191.73,518.76 192.44,518.76 193.14,518.76 193.84,518.77 194.54,518.77 195.24,518.78 195.95,518.78 196.65,518.79 197.35,518.79 198.05,518.80 198.76,518.80 199.46,518.81 200.16,518.81 200.86,518.82 201.57,518.82 202.27,518.83 202.97,518.83 203.67,518.84 204.38,518.84 205.08,518.85 205.78,518.85 206.48,518.86 207.18,518.87 207.89,518.87 208.59,518.87 209.29,518.88 209.99,518.88 210.70,518.89 211.40,518.89 212.10,518.89 212.80,518.90 213.51,518.90 214.21,518.90 214.91,518.91 215.61,518.91 216.31,518.91 217.02,518.91 217.72,518.91 218.42,518.91 219.12,518.91 219.83,518.91 220.53,518.91 221.23,518.90 221.93,518.90 222.64,518.90 223.34,518.89 224.04,518.89 224.74,518.88 225.45,518.88 226.15,518.87 226.85,518.86 227.55,518.85 228.25,518.84 228.96,518.83 229.66,518.82 230.36,518.81 231.06,518.80 231.77,518.78 232.47,518.77 233.17,518.75 233.87,518.74 234.57,518.72 235.28,518.70 235.98,518.68 236.68,518.66 237.38,518.64 238.08,518.62 238.79,518.59 239.49,518.57 240.19,518.54 240.89,518.52 241.59,518.49 242.30,518.46 243.00,518.43 243.70,518.39 244.40,518.36 245.10,518.33 245.80,518.29 246.50,518.25 247.21,518.21 247.91,518.17 248.61,518.13 249.31,518.09 250.01,518.04 250.71,517.99 251.41,517.94 252.11,517.88 252.81,517.81 253.51,517.74 254.21,517.65 254.90,517.55 255.59,517.45 256.29,517.32 256.98,517.19 257.66,517.03 258.34,516.86 259.02,516.67 259.69,516.47 260.35,516.24 261.01,515.98 261.65,515.71 262.29,515.41 262.91,515.08 263.52,514.73 264.11,514.35 264.69,513.95 265.25,513.53 265.80,513.09 266.33,512.63 266.84,512.15 267.34,511.66 267.83,511.15 268.30,510.63 268.75,510.09 269.19,509.55 269.62,508.99 270.02,508.42 270.42,507.83 270.80,507.24 271.16,506.64 271.51,506.04 271.85,505.42 272.17,504.79 272.48,504.16 272.77,503.52 273.04,502.88 273.31,502.23 273.57,501.57 273.82,500.92 274.06,500.26 274.30,499.60 274.54,498.94 274.77,498.27 275.01,497.61 275.25,496.95 275.49,496.29 275.74,495.64 276.00,494.98 276.27,494.33 276.54,493.69 276.82,493.04 277.10,492.40 277.39,491.76 277.68,491.12 277.96,490.48 278.25,489.84 278.53,489.19 278.81,488.55 279.08,487.90 279.34,487.25 279.59,486.59 279.84,485.93 280.07,485.27 280.30,484.61 280.54,483.95 280.80,483.29 281.09,482.65 281.42,482.03 281.81,481.45 282.27,480.92 282.80,480.47 283.41,480.11 284.08,479.91 284.77,479.93 285.43,480.19 286.01,480.58 286.53,481.05 286.99,481.58 287.41,482.14 287.79,482.73 288.14,483.34 288.45,483.97 288.73,484.61 289.00,485.26 289.25,485.92 289.50,486.58 289.75,487.23 290.00,487.89 290.26,488.54 290.52,489.19 290.79,489.84 291.06,490.49 291.35,491.13 291.65,491.76 291.99,492.38 292.36,492.97 292.80,493.53 293.32,493.99 293.96,494.26 294.65,494.18 295.26,493.84 295.80,493.39 296.29,492.89 296.76,492.36 297.21,491.82 297.65,491.27 298.10,490.73 298.57,490.21 299.09,489.74 299.69,489.39 300.38,489.37 300.99,489.72 301.48,490.22 301.90,490.78 302.27,491.37 302.61,491.98 302.92,492.62 303.20,493.26 303.45,493.92 303.68,494.58 303.90,495.25 304.10,495.92 304.30,496.60 304.48,497.27 304.65,497.96 304.81,498.64 304.97,499.32 305.12,500.01 305.26,500.70 305.41,501.38 305.55,502.07 305.70,502.76 305.84,503.45 305.99,504.13 306.15,504.82 306.31,505.50 306.47,506.18 306.65,506.86 306.84,507.54 307.03,508.21 307.25,508.88 307.47,509.55 307.72,510.21 307.98,510.86 308.26,511.50 308.56,512.14 308.89,512.76 309.23,513.37 309.61,513.96 310.00,514.54 310.43,515.10 310.87,515.65 311.35,516.17 311.85,516.66 312.38,517.12 312.95,517.53 313.57,517.86 314.23,518.08 314.93,518.14 315.62,518.01 316.25,517.70 316.80,517.27 317.31,516.78 317.76,516.25 318.19,515.69 318.58,515.11 318.95,514.51 319.30,513.90 319.64,513.29 319.99,512.68 320.37,512.09 320.81,511.54 321.35,511.10 321.99,510.81 322.68,510.70 323.38,510.73 324.07,510.85" stroke="#484848" stroke-width="1.80"/>
<path d="M36.42,453.11 37.09,453.30 37.76,453.53 38.41,453.79 39.05,454.08 39.68,454.40 40.29,454.75 40.89,455.12 41.46,455.52 42.02,455.94 42.57,456.39 43.09,456.85 43.60,457.34 44.10,457.84 44.57,458.35 45.03,458.89 45.47,459.43 45.90,459.99 46.31,460.56 46.71,461.13 47.10,461.72 47.48,462.32 47.84,462.92 48.19,463.52 48.54,464.14 48.87,464.76 49.19,465.38 49.51,466.01 49.82,466.64 50.12,467.27 50.42,467.91 50.71,468.55 51.00,469.19 51.28,469.83 51.57,470.47 51.84,471.12 52.12,471.77 52.39,472.41 52.67,473.06 52.94,473.71 53.21,474.36 53.49,475.00 53.76,475.65 54.03,476.30 54.31,476.94 54.58,477.59 54.86,478.23 55.15,478.88 55.43,479.52 55.72,480.16 56.01,480.80 56.30,481.44 56.60,482.07 56.91,482.71 57.21,483.34 57.53,483.97 57.85,484.59 58.19,485.21 58.54,485.82 58.91,486.42 59.29,487.00 59.71,487.57 60.15,488.12 60.62,488.64 61.14,489.12 61.69,489.55 62.29,489.91 62.93,490.20 63.61,490.39 64.30,490.47 65.00,490.46 65.70,490.37 66.39,490.21 67.06,490.00 67.71,489.74 68.34,489.44 68.96,489.11 69.57,488.75 70.16,488.38 70.75,487.99 71.34,487.61 71.93,487.23 72.53,486.87 73.14,486.52 73.77,486.21 74.42,485.94 75.09,485.72 75.77,485.56 76.47,485.47 77.17,485.47 77.87,485.55 78.56,485.69 79.23,485.89 79.89,486.14 80.53,486.42 81.16,486.74 81.77,487.09 82.36,487.46 82.94,487.86 83.49,488.29 84.04,488.74 84.56,489.21 85.07,489.69 85.56,490.19 86.04,490.70 86.51,491.23 86.97,491.76 87.41,492.31 87.85,492.86 88.28,493.41 88.70,493.97 89.12,494.54 89.54,495.10 89.95,495.67 90.36,496.24 90.77,496.81 91.19,497.38 91.60,497.95 92.02,498.51 92.45,499.07 92.88,499.62 93.32,500.17 93.77,500.71 94.23,501.24 94.70,501.76 95.18,502.27 95.67,502.78 96.17,503.28 96.67,503.77 97.18,504.25 97.70,504.72 98.22,505.19 98.75,505.65 99.29,506.11 99.83,506.55 100.38,506.99 100.93,507.43 101.49,507.86 102.04,508.29 102.61,508.71 103.18,509.12 103.75,509.52 104.33,509.92 104.92,510.30 105.51,510.68 106.11,511.05 106.72,511.41 107.33,511.75 107.95,512.09 108.57,512.41 109.20,512.72 109.84,513.01 110.49,513.29 111.14,513.56 111.79,513.81 112.45,514.05 113.11,514.28 113.78,514.50 114.45,514.71 115.13,514.91 115.80,515.09 116.48,515.27 117.17,515.44 117.85,515.60 118.54,515.75 119.22,515.89 119.91,516.03 120.60,516.16 121.30,516.29 121.99,516.41 122.68,516.52 123.38,516.63 124.07,516.73 124.77,516.84 125.46,516.93 126.16,517.03 126.85,517.12 127.55,517.21 128.25,517.30 128.95,517.38 129.64,517.46 130.34,517.54 131.04,517.61 131.74,517.68 132.44,517.75 133.14,517.81 133.84,517.88 134.54,517.94 135.24,517.99 135.94,518.05 136.64,518.10 137.34,518.15 138.04,518.20 138.74,518.24 139.45,518.28 140.15,518.33 140.85,518.36 141.55,518.40 142.25,518.43 142.95,518.47 143.66,518.50 144.36,518.52 145.06,518.55 145.76,518.57 146.46,518.60 147.17,518.62 147.87,518.64 148.57,518.65 149.27,518.67 149.98,518.69 150.68,518.70 151.38,518.71 152.08,518.72 152.79,518.73 153.49,518.74 154.19,518.74 154.89,518.75 155.60,518.76 156.30,518.76 157.00,518.76 157.71,518.76 158.41,518.76 159.11,518.76 159.81,518.76 160.52,518.76 161.22,518.76 161.92,518.76 162.62,518.76 163.33,518.75 164.03,518.75 164.73,518.74 165.43,518.74 166.14,518.73 166.84,518.73 167.54,518.72 168.24,518.72 168.95,518.71 169.65,518.71 170.35,518.70 171.06,518.70 171.76,518.69 172.46,518.69 173.16,518.68 173.87,518.68 174.57,518.68 175.27,518.67 175.97,518.67 176.68,518.67 177.38,518.67 178.08,518.67 178.78,518.67 179.49,518.67 180.19,518.67 180.89,518.67 181.59,518.67 182.30,518.68 183.00,518.68 183.70,518.69 184.41,518.69 185.11,518.70 185.81,518.70 186.51,518.71 187.22,518.72 187.92,518.73 188.62,518.73 189.32,518.74 190.03,518.75 190.73,518.76 191.43,518.77 192.13,518.78 192.84,518.78 193.54,518.79 194.24,518.80 194.94,518.81 195.65,518.82 196.35,518.82 197.05,518.83 197.75,518.84 198.46,518.84 199.16,518.85 199.86,518.85 200.57,518.85 201.27,518.86 201.97,518.86 202.67,518.86 203.38,518.86 204.08,518.86 204.78,518.86 205.48,518.86 206.19,518.86 206.89,518.85 207.59,518.85 208.29,518.84 209.00,518.83 209.70,518.82 210.40,518.81 211.10,518.80 211.81,518.79 212.51,518.77 213.21,518.75 213.91,518.74 214.62,518.72 215.32,518.69 216.02,518.67 216.72,518.64 217.43,518.62 218.13,518.59 218.83,518.55 219.53,518.52 220.23,518.48 220.93,518.45 221.64,518.41 222.34,518.36 223.04,518.32 223.74,518.27 224.44,518.22 225.14,518.17 225.84,518.11 226.54,518.05 227.24,517.99 227.94,517.93 228.64,517.86 229.34,517.80 230.04,517.72 230.74,517.65 231.44,517.57 232.13,517.49 232.83,517.41 233.53,517.32 234.23,517.23 234.92,517.14 235.62,517.04 236.31,516.93 237.01,516.83 237.70,516.71 238.39,516.59 239.08,516.47 239.77,516.34 240.46,516.20 241.15,516.05 241.84,515.90 242.52,515.73 243.20,515.56 243.88,515.38 244.56,515.19 245.23,514.99 245.90,514.79 246.57,514.57 247.23,514.34 247.89,514.10 248.55,513.84 249.20,513.58 249.85,513.30 250.49,513.02 251.12,512.72 251.75,512.40 252.37,512.08 252.99,511.74 253.60,511.39 254.20,511.03 254.80,510.65 255.38,510.27 255.96,509.87 256.53,509.46 257.09,509.03 257.64,508.60 258.18,508.15 258.72,507.69 259.24,507.22 259.74,506.73 260.24,506.24 260.73,505.73 261.20,505.21 261.66,504.67 262.10,504.13 262.54,503.58 262.96,503.02 263.38,502.46 263.80,501.89 264.20,501.31 264.61,500.74 265.01,500.16 265.41,499.59 265.81,499.01 266.21,498.43 266.62,497.86 267.03,497.29 267.45,496.73 267.88,496.17 268.31,495.62 268.75,495.07 269.19,494.52 269.63,493.98 270.08,493.43 270.53,492.89 270.97,492.35 271.42,491.81 271.87,491.26 272.31,490.72 272.75,490.17 273.19,489.62 273.62,489.07 274.05,488.51 274.47,487.95 274.88,487.38 275.29,486.81 275.70,486.24 276.10,485.66 276.50,485.08 276.90,484.50 277.30,483.93 277.70,483.35 278.10,482.77 278.50,482.19 278.90,481.62 279.32,481.05 279.74,480.49 280.19,479.95 280.67,479.43 281.18,478.95 281.72,478.50 282.29,478.09 282.89,477.73 283.51,477.40 284.15,477.11 284.81,476.87 285.48,476.66 286.17,476.50 286.86,476.38 287.56,476.30 288.26,476.26 288.96,476.27 289.66,476.31 290.36,476.39 291.05,476.52 291.73,476.69 292.40,476.89 293.06,477.14 293.71,477.42 294.34,477.73 294.95,478.08 295.55,478.45 296.13,478.84 296.69,479.26 297.24,479.70 297.77,480.16 298.29,480.64 298.79,481.13 299.27,481.64 299.75,482.16 300.20,482.69 300.64,483.24 301.07,483.79 301.49,484.36 301.89,484.94 302.28,485.52 302.65,486.12 303.02,486.72 303.37,487.32 303.72,487.94 304.05,488.55 304.38,489.18 304.70,489.80 305.01,490.43 305.32,491.06 305.62,491.70 305.92,492.33 306.22,492.97 306.51,493.61 306.81,494.24 307.11,494.88 307.41,495.52 307.71,496.15 308.02,496.78 308.33,497.41 308.65,498.03 308.98,498.66 309.32,499.27 309.67,499.88 310.02,500.49 310.39,501.09 310.77,501.68 311.16,502.26 311.57,502.84 311.98,503.40 312.40,503.96 312.84,504.52 313.28,505.06 313.74,505.60 314.20,506.13 314.67,506.64 315.16,507.16 315.65,507.66 316.15,508.15 316.65,508.64 317.17,509.11 317.70,509.58 318.23,510.04 318.77,510.49 319.32,510.93 319.87,511.36 320.43,511.78 321.00,512.19 321.58,512.59 322.17,512.98 322.76,513.36 323.35,513.73 323.96,514.09" stroke="#e8474d" stroke-width="1.80"/>
<path d="M36.47,409.24 37.11,409.54 37.73,409.86 38.35,410.19 38.96,410.54 39.56,410.90 40.15,411.28 40.73,411.68 41.30,412.09 41.86,412.51 42.41,412.95 42.94,413.40 43.47,413.87 43.98,414.35 44.48,414.84 44.98,415.34 45.45,415.85 45.92,416.37 46.38,416.90 46.83,417.45 47.26,418.00 47.68,418.55 48.10,419.12 48.50,419.69 48.90,420.27 49.28,420.86 49.66,421.45 50.03,422.05 50.39,422.65 50.74,423.26 51.09,423.87 51.43,424.48 51.76,425.10 52.08,425.72 52.40,426.35 52.72,426.97 53.03,427.60 53.33,428.23 53.64,428.87 53.93,429.50 54.23,430.14 54.52,430.78 54.81,431.42 55.10,432.06 55.38,432.70 55.66,433.34 55.95,433.98 56.23,434.62 56.51,435.27 56.79,435.91 57.08,436.55 57.36,437.19 57.65,437.83 57.93,438.47 58.22,439.11 58.51,439.75 58.80,440.39 59.10,441.02 59.40,441.66 59.71,442.29 60.01,442.92 60.33,443.55 60.65,444.17 60.97,444.80 61.30,445.41 61.64,446.03 61.98,446.64 62.33,447.25 62.69,447.85 63.05,448.45 63.43,449.05 63.81,449.63 64.20,450.22 64.60,450.79 65.01,451.36 65.43,451.92 65.86,452.48 66.29,453.03 66.74,453.57 67.19,454.11 67.65,454.64 68.12,455.16 68.60,455.67 69.09,456.18 69.58,456.67 70.08,457.16 70.59,457.64 71.11,458.12 71.64,458.58 72.17,459.04 72.71,459.49 73.25,459.94 73.80,460.37 74.35,460.81 74.90,461.24 75.46,461.67 76.02,462.09 76.57,462.52 77.13,462.94 77.69,463.37 78.24,463.80 78.79,464.23 79.34,464.67 79.89,465.11 80.43,465.56 80.96,466.01 81.49,466.47 82.02,466.93 82.55,467.40 83.07,467.87 83.58,468.35 84.09,468.83 84.60,469.31 85.10,469.80 85.60,470.29 86.10,470.79 86.59,471.29 87.08,471.80 87.56,472.30 88.04,472.82 88.52,473.33 88.99,473.85 89.46,474.37 89.92,474.90 90.38,475.43 90.84,475.96 91.29,476.49 91.74,477.03 92.19,477.57 92.63,478.12 93.07,478.66 93.51,479.21 93.94,479.76 94.37,480.32 94.80,480.87 95.22,481.43 95.65,481.99 96.07,482.56 96.48,483.12 96.90,483.68 97.32,484.25 97.73,484.82 98.14,485.38 98.56,485.95 98.97,486.52 99.38,487.08 99.79,487.65 100.21,488.22 100.62,488.78 101.04,489.35 101.46,489.91 101.88,490.48 102.30,491.04 102.72,491.60 103.15,492.15 103.58,492.71 104.01,493.26 104.44,493.81 104.88,494.36 105.33,494.90 105.77,495.44 106.22,495.98 106.68,496.51 107.14,497.04 107.61,497.56 108.08,498.08 108.56,498.60 109.04,499.10 109.53,499.61 110.03,500.10 110.53,500.59 111.04,501.08 111.55,501.55 112.08,502.02 112.61,502.48 113.14,502.94 113.68,503.38 114.23,503.82 114.78,504.26 115.34,504.68 115.90,505.10 116.47,505.51 117.04,505.91 117.62,506.31 118.20,506.70 118.79,507.08 119.39,507.46 119.98,507.83 120.58,508.19 121.19,508.54 121.80,508.89 122.41,509.23 123.03,509.56 123.65,509.89 124.28,510.21 124.91,510.52 125.54,510.82 126.17,511.12 126.81,511.41 127.45,511.69 128.10,511.97 128.75,512.24 129.40,512.50 130.05,512.76 130.71,513.00 131.37,513.25 132.03,513.48 132.69,513.71 133.36,513.93 134.02,514.14 134.69,514.35 135.37,514.55 136.04,514.74 136.72,514.93 137.40,515.11 138.07,515.28 138.76,515.45 139.44,515.62 140.12,515.77 140.81,515.92 141.49,516.07 142.18,516.21 142.87,516.34 143.56,516.47 144.25,516.60 144.94,516.71 145.63,516.83 146.33,516.94 147.02,517.04 147.71,517.14 148.41,517.23 149.11,517.32 149.80,517.41 150.50,517.49 151.20,517.57 151.89,517.64 152.59,517.71 153.29,517.78 153.99,517.84 154.69,517.90 155.39,517.96 156.09,518.01 156.79,518.06 157.49,518.10 158.19,518.15 158.89,518.19 159.59,518.22 160.29,518.26 160.99,518.29 161.69,518.32 162.39,518.35 163.09,518.38 163.79,518.40 164.49,518.42 165.20,518.45 165.90,518.46 166.60,518.48 167.30,518.50 168.00,518.51 168.70,518.53 169.40,518.54 170.11,518.55 170.81,518.56 171.51,518.57 172.21,518.58 172.91,518.59 173.61,518.59 174.31,518.60 175.02,518.61 175.72,518.62 176.42,518.62 177.12,518.63 177.82,518.64 178.52,518.64 179.22,518.65 179.93,518.66 180.63,518.67 181.33,518.67 182.03,518.68 182.73,518.69 183.43,518.69 184.14,518.70 184.84,518.70 185.54,518.71 186.24,518.71 186.94,518.71 187.64,518.71 188.34,518.71 189.05,518.71 189.75,518.71 190.45,518.71 191.15,518.71 191.85,518.70 192.55,518.69 193.26,518.69 193.96,518.68 194.66,518.67 195.36,518.65 196.06,518.64 196.76,518.62 197.46,518.60 198.17,518.58 198.87,518.56 199.57,518.54 200.27,518.51 200.97,518.48 201.67,518.45 202.37,518.42 203.07,518.38 203.77,518.34 204.47,518.30 205.17,518.26 205.87,518.21 206.57,518.16 207.27,518.11 207.97,518.05 208.67,517.99 209.37,517.93 210.07,517.86 210.77,517.80 211.46,517.72 212.16,517.65 212.86,517.57 213.55,517.48 214.25,517.40 214.95,517.31 215.64,517.21 216.34,517.11 217.03,517.01 217.72,516.90 218.42,516.79 219.11,516.68 219.80,516.56 220.49,516.44 221.18,516.31 221.87,516.18 222.56,516.04 223.24,515.90 223.93,515.75 224.61,515.60 225.30,515.44 225.98,515.28 226.66,515.12 227.34,514.95 228.02,514.77 228.70,514.59 229.38,514.40 230.05,514.21 230.73,514.02 231.40,513.81 232.07,513.61 232.74,513.40 233.40,513.18 234.07,512.96 234.73,512.73 235.39,512.49 236.05,512.26 236.71,512.01 237.37,511.76 238.02,511.50 238.67,511.24 239.32,510.97 239.96,510.70 240.61,510.41 241.24,510.13 241.88,509.83 242.51,509.53 243.15,509.22 243.77,508.91 244.40,508.58 245.01,508.25 245.63,507.92 246.24,507.57 246.85,507.22 247.45,506.86 248.05,506.50 248.64,506.12 249.23,505.74 249.81,505.35 250.39,504.95 250.96,504.54 251.53,504.13 252.09,503.70 252.64,503.27 253.18,502.83 253.72,502.38 254.25,501.92 254.78,501.46 255.29,500.98 255.80,500.50 256.30,500.00 256.79,499.50 257.28,499.00 257.76,498.48 258.23,497.96 258.69,497.44 259.15,496.91 259.60,496.37 260.05,495.83 260.49,495.28 260.92,494.73 261.35,494.17 261.77,493.62 262.19,493.05 262.61,492.49 263.02,491.92 263.43,491.35 263.84,490.78 264.24,490.20 264.64,489.63 265.04,489.05 265.43,488.47 265.83,487.89 266.22,487.31 266.61,486.73 267.00,486.14 267.39,485.56 267.78,484.98 268.17,484.39 268.56,483.81 268.95,483.23 269.34,482.65 269.74,482.07 270.13,481.49 270.53,480.91 270.93,480.33 271.34,479.76 271.74,479.19 272.16,478.62 272.57,478.06 272.99,477.50 273.42,476.94 273.85,476.39 274.29,475.84 274.74,475.30 275.19,474.76 275.65,474.24 276.12,473.71 276.60,473.20 277.08,472.69 277.58,472.19 278.08,471.70 278.59,471.23 279.12,470.76 279.66,470.31 280.21,469.88 280.78,469.46 281.36,469.07 281.95,468.70 282.56,468.35 283.19,468.04 283.83,467.76 284.49,467.51 285.16,467.31 285.84,467.15 286.53,467.03 287.23,466.95 287.93,466.92 288.63,466.94 289.33,466.99 290.03,467.09 290.72,467.22 291.39,467.40 292.06,467.61 292.72,467.86 293.36,468.14 293.99,468.45 294.60,468.80 295.19,469.18 295.77,469.58 296.33,470.00 296.87,470.44 297.40,470.90 297.92,471.38 298.42,471.87 298.91,472.37 299.39,472.88 299.86,473.40 300.33,473.93 300.78,474.46 301.23,475.00 301.68,475.54 302.12,476.08 302.56,476.63 302.99,477.18 303.42,477.74 303.85,478.30 304.27,478.86 304.69,479.42 305.10,479.99 305.51,480.55 305.92,481.12 306.33,481.70 306.73,482.27 307.13,482.85 307.53,483.42 307.92,484.00 308.32,484.58 308.71,485.17 309.10,485.75 309.49,486.33 309.87,486.92 310.26,487.51 310.64,488.09 311.03,488.68 311.41,489.27 311.79,489.86 312.18,490.44 312.56,491.03 312.94,491.62 313.32,492.21 313.71,492.79 314.09,493.38 314.48,493.97 314.86,494.55 315.25,495.14 315.64,495.72 316.03,496.30 316.43,496.88 316.82,497.46 317.22,498.04 317.62,498.62 318.03,499.19 318.43,499.76 318.84,500.33 319.25,500.90 319.67,501.46 320.09,502.03 320.51,502.59 320.94,503.14 321.37,503.70 321.81,504.25 322.24,504.79 322.69,505.34 323.14,505.88 323.59,506.41 324.05,506.94" stroke="#2a72dc" stroke-width="1.90"/>
<path d="M36.59,356.47 37.18,356.86 37.76,357.26 38.33,357.66 38.89,358.08 39.45,358.51 40.00,358.95 40.54,359.39 41.07,359.85 41.60,360.32 42.12,360.79 42.63,361.27 43.13,361.76 43.62,362.26 44.11,362.77 44.59,363.28 45.06,363.80 45.53,364.33 45.98,364.86 46.43,365.40 46.88,365.94 47.31,366.49 47.74,367.05 48.16,367.61 48.58,368.18 48.99,368.75 49.39,369.32 49.79,369.90 50.18,370.48 50.56,371.07 50.94,371.66 51.31,372.26 51.68,372.86 52.04,373.46 52.40,374.06 52.75,374.67 53.09,375.28 53.43,375.90 53.77,376.51 54.10,377.13 54.42,377.76 54.75,378.38 55.06,379.01 55.37,379.64 55.68,380.27 55.99,380.90 56.29,381.53 56.59,382.17 56.88,382.81 57.17,383.45 57.46,384.09 57.75,384.73 58.03,385.37 58.31,386.01 58.59,386.66 58.87,387.30 59.14,387.95 59.42,388.59 59.69,389.24 59.96,389.89 60.23,390.53 60.51,391.18 60.78,391.83 61.05,392.48 61.32,393.12 61.59,393.77 61.86,394.42 62.13,395.07 62.41,395.71 62.68,396.36 62.96,397.01 63.23,397.65 63.51,398.29 63.79,398.94 64.08,399.58 64.36,400.22 64.65,400.86 64.94,401.50 65.23,402.14 65.52,402.78 65.82,403.42 66.12,404.05 66.42,404.69 66.72,405.32 67.02,405.95 67.33,406.59 67.63,407.22 67.94,407.85 68.25,408.48 68.56,409.11 68.88,409.73 69.19,410.36 69.51,410.99 69.83,411.61 70.15,412.24 70.47,412.86 70.79,413.49 71.11,414.11 71.44,414.73 71.77,415.35 72.10,415.97 72.43,416.59 72.76,417.21 73.09,417.83 73.42,418.45 73.76,419.07 74.09,419.68 74.43,420.30 74.76,420.92 75.10,421.53 75.44,422.15 75.78,422.76 76.12,423.37 76.47,423.99 76.81,424.60 77.15,425.21 77.50,425.82 77.84,426.43 78.19,427.04 78.54,427.65 78.89,428.26 79.23,428.87 79.58,429.48 79.93,430.09 80.28,430.70 80.63,431.31 80.98,431.92 81.33,432.52 81.69,433.13 82.04,433.74 82.39,434.35 82.74,434.95 83.10,435.56 83.45,436.17 83.81,436.77 84.16,437.38 84.51,437.99 84.87,438.59 85.22,439.20 85.58,439.80 85.93,440.41 86.29,441.02 86.64,441.62 86.99,442.23 87.35,442.83 87.70,443.44 88.06,444.05 88.41,444.65 88.77,445.26 89.12,445.86 89.47,446.47 89.83,447.08 90.18,447.69 90.53,448.29 90.88,448.90 91.23,449.51 91.59,450.12 91.94,450.72 92.29,451.33 92.64,451.94 92.99,452.55 93.34,453.15 93.69,453.76 94.05,454.37 94.40,454.98 94.75,455.58 95.10,456.19 95.46,456.80 95.81,457.40 96.16,458.01 96.52,458.62 96.87,459.22 97.23,459.83 97.58,460.43 97.94,461.04 98.30,461.64 98.66,462.25 99.02,462.85 99.38,463.45 99.74,464.05 100.10,464.66 100.46,465.26 100.83,465.86 101.19,466.46 101.56,467.05 101.93,467.65 102.30,468.25 102.67,468.84 103.04,469.44 103.42,470.03 103.79,470.63 104.17,471.22 104.55,471.81 104.93,472.40 105.31,472.99 105.69,473.58 106.08,474.16 106.47,474.75 106.86,475.33 107.25,475.92 107.64,476.50 108.04,477.08 108.43,477.66 108.83,478.23 109.23,478.81 109.64,479.38 110.05,479.96 110.45,480.53 110.87,481.10 111.28,481.66 111.70,482.23 112.11,482.79 112.54,483.35 112.96,483.91 113.39,484.47 113.82,485.03 114.25,485.58 114.68,486.13 115.12,486.68 115.56,487.23 116.00,487.77 116.45,488.31 116.90,488.85 117.35,489.39 117.81,489.92 118.26,490.46 118.72,490.99 119.19,491.51 119.66,492.04 120.13,492.56 120.60,493.08 121.08,493.59 121.56,494.10 122.04,494.61 122.53,495.12 123.02,495.62 123.51,496.12 124.01,496.62 124.51,497.11 125.01,497.60 125.52,498.08 126.03,498.56 126.55,499.04 127.06,499.51 127.59,499.98 128.11,500.45 128.64,500.91 129.18,501.36 129.72,501.82 130.26,502.26 130.80,502.70 131.35,503.14 131.91,503.57 132.46,504.00 133.03,504.42 133.59,504.83 134.16,505.24 134.74,505.65 135.31,506.05 135.90,506.44 136.48,506.82 137.07,507.20 137.67,507.58 138.27,507.95 138.87,508.31 139.48,508.66 140.09,509.01 140.70,509.34 141.32,509.68 141.94,510.00 142.57,510.32 143.19,510.63 143.83,510.94 144.46,511.24 145.10,511.53 145.74,511.82 146.39,512.10 147.03,512.37 147.68,512.63 148.34,512.89 148.99,513.15 149.65,513.39 150.31,513.63 150.97,513.87 151.63,514.10 152.30,514.32 152.97,514.54 153.64,514.75 154.31,514.95 154.98,515.15 155.66,515.34 156.33,515.53 157.01,515.71 157.69,515.88 158.37,516.05 159.06,516.21 159.74,516.37 160.43,516.52 161.11,516.67 161.80,516.81 162.49,516.95 163.18,517.08 163.87,517.21 164.56,517.33 165.25,517.44 165.95,517.55 166.64,517.65 167.34,517.75 168.03,517.85 168.73,517.94 169.43,518.02 170.12,518.10 170.82,518.17 171.52,518.24 172.22,518.30 172.92,518.36 173.62,518.42 174.32,518.46 175.02,518.51 175.72,518.55 176.42,518.58 177.12,518.61 177.83,518.63 178.53,518.65 179.23,518.66 179.93,518.67 180.63,518.67 181.34,518.67 182.04,518.67 182.74,518.66 183.44,518.64 184.14,518.62 184.84,518.59 185.55,518.56 186.25,518.53 186.95,518.49 187.65,518.44 188.35,518.40 189.05,518.34 189.75,518.28 190.45,518.22 191.15,518.15 191.85,518.08 192.54,518.01 193.24,517.93 193.94,517.84 194.63,517.75 195.33,517.66 196.02,517.56 196.72,517.46 197.41,517.35 198.11,517.24 198.80,517.12 199.49,517.00 200.18,516.88 200.87,516.75 201.56,516.61 202.25,516.48 202.94,516.34 203.62,516.19 204.31,516.04 204.99,515.89 205.68,515.73 206.36,515.57 207.04,515.40 207.72,515.23 208.40,515.06 209.08,514.88 209.76,514.70 210.44,514.51 211.11,514.32 211.79,514.13 212.46,513.93 213.14,513.73 213.81,513.52 214.48,513.31 215.15,513.10 215.81,512.88 216.48,512.66 217.14,512.44 217.81,512.21 218.47,511.97 219.13,511.74 219.79,511.50 220.45,511.26 221.11,511.01 221.76,510.76 222.42,510.50 223.07,510.24 223.72,509.98 224.37,509.71 225.02,509.44 225.66,509.16 226.31,508.88 226.95,508.60 227.59,508.30 228.22,508.01 228.86,507.71 229.49,507.41 230.12,507.10 230.75,506.78 231.37,506.46 232.00,506.14 232.62,505.81 233.23,505.47 233.85,505.13 234.46,504.79 235.06,504.43 235.67,504.08 236.27,503.71 236.87,503.35 237.46,502.97 238.05,502.59 238.64,502.21 239.22,501.81 239.80,501.42 240.38,501.01 240.95,500.60 241.51,500.19 242.07,499.77 242.63,499.34 243.18,498.90 243.73,498.46 244.27,498.02 244.81,497.57 245.34,497.11 245.87,496.65 246.40,496.18 246.92,495.71 247.43,495.24 247.95,494.76 248.45,494.27 248.96,493.78 249.46,493.29 249.95,492.80 250.45,492.30 250.94,491.79 251.42,491.29 251.91,490.78 252.39,490.26 252.86,489.75 253.33,489.23 253.80,488.71 254.27,488.18 254.74,487.66 255.20,487.13 255.66,486.60 256.11,486.06 256.57,485.53 257.02,484.99 257.47,484.45 257.92,483.91 258.37,483.37 258.81,482.83 259.26,482.29 259.70,481.74 260.14,481.19 260.58,480.65 261.02,480.10 261.45,479.55 261.89,479.00 262.33,478.45 262.76,477.90 263.20,477.35 263.63,476.80 264.07,476.25 264.51,475.70 264.95,475.15 265.39,474.61 265.84,474.07 266.29,473.52 266.74,472.99 267.19,472.45 267.65,471.92 268.11,471.39 268.57,470.86 269.04,470.34 269.51,469.82 269.99,469.30 270.48,468.80 270.96,468.29 271.46,467.79 271.96,467.30 272.47,466.82 272.98,466.34 273.50,465.87 274.03,465.41 274.57,464.95 275.11,464.51 275.66,464.07 276.22,463.64 276.78,463.23 277.35,462.82 277.93,462.43 278.52,462.04 279.12,461.67 279.72,461.31 280.34,460.97 280.96,460.64 281.58,460.33 282.22,460.04 282.87,459.76 283.52,459.51 284.19,459.28 284.86,459.07 285.54,458.89 286.22,458.74 286.91,458.63 287.61,458.54 288.31,458.50 289.01,458.49 289.71,458.53 290.41,458.61 291.10,458.73 291.78,458.90 292.45,459.12 293.11,459.37 293.75,459.65 294.38,459.97 294.99,460.31 295.59,460.68 296.17,461.07 296.74,461.48 297.30,461.91 297.84,462.35 298.37,462.81 298.89,463.29 299.40,463.77 299.89,464.27 300.38,464.78 300.85,465.30 301.31,465.82 301.77,466.36 302.21,466.90 302.65,467.45 303.08,468.01 303.50,468.57 303.91,469.14 304.31,469.71 304.71,470.29 305.11,470.87 305.49,471.46 305.88,472.05 306.26,472.64 306.63,473.23 307.00,473.83 307.37,474.42 307.74,475.02 308.11,475.62 308.48,476.22 308.84,476.82 309.21,477.41 309.58,478.01 309.95,478.61 310.32,479.20 310.70,479.79 311.08,480.38 311.47,480.97 311.86,481.55 312.25,482.13 312.65,482.71 313.06,483.28 313.47,483.85 313.88,484.42 314.30,484.99 314.71,485.55 315.13,486.11 315.56,486.68 315.98,487.23 316.41,487.79 316.83,488.35 317.26,488.91 317.68,489.47 318.11,490.02 318.54,490.58 318.96,491.14 319.38,491.70 319.81,492.26 320.22,492.83 320.64,493.39 321.06,493.96 321.47,494.53 321.87,495.10 322.28,495.67 322.68,496.25 323.07,496.83 323.46,497.42 323.85,498.00" stroke="#47ad73" stroke-width="1.80"/>
</g>
<rect x="35.47" y="307.70" width="289.03" height="232.40" fill="none" stroke="#000" stroke-width="1.6"/>
<path d="M30.87,518.80H35.47M32.87,492.42H35.47M30.87,466.04H35.47M32.87,439.66H35.47M30.87,413.28H35.47M32.87,386.90H35.47M30.87,360.52H35.47M32.87,334.14H35.47M30.87,307.76H35.47M35.47,540.10V544.50M107.73,540.10V544.50M179.98,540.10V544.50M252.24,540.10V544.50M324.50,540.10V544.50" stroke="#000" stroke-width="1.4" fill="none"/>
<g font-family="'Liberation Serif', serif" font-weight="bold" font-size="11.2" fill="#000"><text transform="translate(29.27,522.20) scale(1,1.2)" text-anchor="end">0</text><text transform="translate(29.27,469.44) scale(1,1.2)" text-anchor="end">4</text><text transform="translate(29.27,416.68) scale(1,1.2)" text-anchor="end">8</text><text transform="translate(29.27,363.92) scale(1,1.2)" text-anchor="end">12</text><text transform="translate(28.27,311.16) scale(1,1.2)" text-anchor="end">16</text></g>
<g font-family="'Liberation Serif', serif" font-weight="bold" font-size="10" fill="#000"><text x="35.47" y="555.70" text-anchor="middle">-0.8</text><text x="107.73" y="555.70" text-anchor="middle">-0.4</text><text x="179.98" y="555.70" text-anchor="middle">0.0</text><text x="252.24" y="555.70" text-anchor="middle">0.4</text><text x="324.50" y="555.70" text-anchor="middle">0.8</text></g>
<text x="1.60" y="304.60" font-family="'Liberation Serif', serif" font-weight="bold" font-size="13">(c)</text>
<text x="179.90" y="573.90" text-anchor="middle" font-family="'Liberation Serif', serif" font-weight="bold" font-size="12">&#956;(eV)</text>
<text transform="translate(12.80,422.60) rotate(-90)" text-anchor="middle" font-family="'Liberation Serif', serif" font-weight="bold" font-size="12.25">PF/&#964;(10<tspan font-size="8" dy="-4.5">10</tspan><tspan dy="4.5">W/mK</tspan><tspan font-size="8" dy="-4.5">2</tspan><tspan dy="4.5">s)</tspan></text>
<line x1="258.90" y1="316.00" x2="286.50" y2="316.00" stroke="#6e6e6e" stroke-width="1.80"/>
<text x="289.40" y="320.12" font-family="'Liberation Serif', serif" font-weight="bold" font-size="12.3">300K</text>
<line x1="258.90" y1="330.90" x2="286.50" y2="330.90" stroke="#ee676c" stroke-width="1.80"/>
<text x="289.40" y="335.02" font-family="'Liberation Serif', serif" font-weight="bold" font-size="12.3">500K</text>
<line x1="258.90" y1="346.20" x2="286.50" y2="346.20" stroke="#2f7bde" stroke-width="1.90"/>
<text x="289.40" y="350.32" font-family="'Liberation Serif', serif" font-weight="bold" font-size="12.3">700K</text>
<line x1="258.90" y1="361.30" x2="286.50" y2="361.30" stroke="#58b983" stroke-width="1.80"/>
<text x="289.40" y="365.42" font-family="'Liberation Serif', serif" font-weight="bold" font-size="12.3">900K</text>
<clipPath id="clipd"><rect x="388.47" y="307.70" width="289.03" height="232.40"/></clipPath>
<g clip-path="url(#clipd)" fill="none" stroke-linejoin="round" stroke-linecap="round">
<path d="M389.07,498.90 389.72,499.16 390.35,499.46 390.97,499.80 391.56,500.17 392.13,500.58 392.68,501.02 393.20,501.49 393.70,501.99 394.18,502.50 394.64,503.03 395.08,503.57 395.52,504.12 395.95,504.68 396.37,505.24 396.79,505.80 397.22,506.35 397.65,506.91 398.09,507.45 398.54,507.99 399.01,508.51 399.52,509.00 400.07,509.43 400.70,509.75 401.38,509.86 402.07,509.73 402.69,509.41 403.25,508.98 403.75,508.49 404.21,507.96 404.64,507.40 405.04,506.83 405.42,506.24 405.79,505.64 406.17,505.05 406.57,504.48 407.02,503.94 407.55,503.48 408.19,503.20 408.88,503.19 409.55,503.41 410.16,503.75 410.72,504.17 411.24,504.65 411.72,505.16 412.16,505.71 412.56,506.28 412.92,506.88 413.25,507.50 413.56,508.14 413.86,508.77 414.17,509.40 414.50,510.02 414.84,510.63 415.19,511.24 415.57,511.83 415.97,512.40 416.41,512.95 416.89,513.46 417.43,513.91 418.04,514.25 418.72,514.40 419.41,514.29 420.04,513.99 420.61,513.58 421.13,513.10 421.62,512.60 422.07,512.07 422.51,511.52 422.93,510.95 423.33,510.38 423.71,509.79 424.07,509.18 424.42,508.57 424.75,507.95 425.07,507.33 425.38,506.70 425.68,506.07 425.98,505.43 426.27,504.79 426.57,504.16 426.87,503.52 427.17,502.89 427.48,502.26 427.81,501.64 428.14,501.02 428.49,500.41 428.85,499.81 429.23,499.22 429.64,498.65 430.07,498.10 430.54,497.58 431.05,497.09 431.59,496.65 432.19,496.28 432.83,495.99 433.50,495.80 434.20,495.72 434.90,495.75 435.59,495.87 436.27,496.05 436.93,496.29 437.57,496.57 438.19,496.89 438.79,497.26 439.36,497.67 439.91,498.11 440.43,498.58 440.92,499.08 441.39,499.60 441.83,500.15 442.26,500.70 442.66,501.28 443.06,501.86 443.44,502.45 443.81,503.04 444.17,503.65 444.53,504.25 444.89,504.85 445.24,505.46 445.60,506.06 445.97,506.66 446.34,507.25 446.72,507.84 447.12,508.42 447.53,508.99 447.96,509.54 448.41,510.08 448.88,510.61 449.36,511.12 449.86,511.61 450.37,512.09 450.90,512.55 451.45,512.99 452.00,513.42 452.57,513.83 453.16,514.22 453.75,514.59 454.36,514.95 454.97,515.28 455.60,515.60 456.23,515.91 456.87,516.19 457.52,516.45 458.18,516.70 458.84,516.93 459.51,517.14 460.18,517.34 460.86,517.52 461.55,517.67 462.23,517.82 462.92,517.94 463.62,518.05 464.31,518.15 465.01,518.23 465.71,518.30 466.41,518.36 467.11,518.42 467.81,518.46 468.51,518.49 469.21,518.52 469.91,518.55 470.61,518.57 471.31,518.58 472.02,518.60 472.72,518.61 473.42,518.63 474.12,518.64 474.82,518.65 475.52,518.66 476.23,518.68 476.93,518.69 477.63,518.70 478.33,518.71 479.03,518.72 479.73,518.73 480.44,518.74 481.14,518.75 481.84,518.76 482.54,518.77 483.24,518.78 483.95,518.78 484.65,518.79 485.35,518.80 486.05,518.81 486.75,518.81 487.45,518.82 488.16,518.83 488.86,518.83 489.56,518.84 490.26,518.85 490.96,518.85 491.67,518.86 492.37,518.86 493.07,518.87 493.77,518.87 494.47,518.87 495.17,518.88 495.88,518.88 496.58,518.89 497.28,518.89 497.98,518.89 498.68,518.90 499.38,518.90 500.09,518.90 500.79,518.90 501.49,518.91 502.19,518.91 502.89,518.91 503.60,518.91 504.30,518.91 505.00,518.92 505.70,518.92 506.40,518.92 507.10,518.92 507.81,518.92 508.51,518.92 509.21,518.92 509.91,518.92 510.61,518.92 511.32,518.92 512.02,518.92 512.72,518.92 513.42,518.93 514.12,518.93 514.82,518.93 515.53,518.92 516.23,518.92 516.93,518.92 517.63,518.92 518.33,518.92 519.04,518.92 519.74,518.92 520.44,518.92 521.14,518.92 521.84,518.92 522.54,518.92 523.25,518.92 523.95,518.92 524.65,518.92 525.35,518.92 526.05,518.91 526.76,518.91 527.46,518.91 528.16,518.91 528.86,518.91 529.56,518.91 530.26,518.91 530.97,518.91 531.67,518.91 532.37,518.90 533.07,518.90 533.77,518.90 534.48,518.90 535.18,518.90 535.88,518.90 536.58,518.90 537.28,518.90 537.98,518.90 538.69,518.89 539.39,518.89 540.09,518.89 540.79,518.89 541.49,518.89 542.20,518.89 542.90,518.89 543.60,518.89 544.30,518.89 545.00,518.89 545.70,518.89 546.41,518.89 547.11,518.89 547.81,518.89 548.51,518.89 549.21,518.89 549.92,518.89 550.62,518.89 551.32,518.89 552.02,518.89 552.72,518.89 553.42,518.89 554.13,518.89 554.83,518.89 555.53,518.89 556.23,518.89 556.93,518.89 557.64,518.90 558.34,518.90 559.04,518.90 559.74,518.90 560.44,518.90 561.14,518.90 561.85,518.91 562.55,518.91 563.25,518.91 563.95,518.91 564.65,518.91 565.36,518.92 566.06,518.92 566.76,518.92 567.46,518.92 568.16,518.92 568.86,518.92 569.57,518.92 570.27,518.92 570.97,518.92 571.67,518.91 572.37,518.91 573.08,518.91 573.78,518.90 574.48,518.90 575.18,518.89 575.88,518.89 576.58,518.88 577.29,518.87 577.99,518.86 578.69,518.85 579.39,518.84 580.09,518.83 580.79,518.82 581.50,518.80 582.20,518.79 582.90,518.77 583.60,518.75 584.30,518.73 585.00,518.71 585.71,518.69 586.41,518.66 587.11,518.64 587.81,518.61 588.51,518.59 589.21,518.56 589.91,518.52 590.61,518.49 591.32,518.46 592.02,518.42 592.72,518.38 593.42,518.34 594.12,518.29 594.82,518.23 595.52,518.17 596.22,518.11 596.91,518.03 597.61,517.95 598.31,517.86 599.00,517.76 599.69,517.65 600.39,517.53 601.07,517.40 601.76,517.25 602.44,517.09 603.12,516.92 603.80,516.73 604.47,516.53 605.14,516.31 605.80,516.07 606.45,515.82 607.10,515.55 607.74,515.26 608.37,514.95 608.99,514.62 609.60,514.27 610.20,513.91 610.79,513.53 611.37,513.13 611.93,512.71 612.49,512.28 613.03,511.84 613.55,511.37 614.07,510.89 614.56,510.40 615.05,509.89 615.51,509.36 615.96,508.82 616.39,508.27 616.81,507.71 617.21,507.13 617.59,506.54 617.95,505.93 618.30,505.33 618.63,504.71 618.95,504.08 619.26,503.46 619.57,502.82 619.86,502.19 620.15,501.55 620.44,500.91 620.72,500.26 621.00,499.62 621.29,498.98 621.57,498.34 621.86,497.70 622.16,497.06 622.45,496.43 622.75,495.79 623.05,495.16 623.35,494.52 623.65,493.89 623.95,493.25 624.25,492.62 624.54,491.98 624.84,491.34 625.13,490.70 625.42,490.06 625.70,489.42 625.99,488.78 626.28,488.14 626.59,487.51 626.92,486.89 627.28,486.30 627.70,485.73 628.18,485.22 628.74,484.80 629.38,484.51 630.07,484.42 630.77,484.50 631.44,484.70 632.08,484.99 632.67,485.36 633.23,485.79 633.73,486.28 634.18,486.81 634.59,487.38 634.97,487.97 635.32,488.58 635.67,489.19 636.01,489.81 636.37,490.41 636.76,490.99 637.19,491.54 637.69,492.04 638.25,492.46 638.88,492.77 639.55,492.97 640.25,493.04 640.95,492.97 641.61,492.77 642.23,492.43 642.79,492.01 643.34,491.57 643.94,491.21 644.62,491.10 645.28,491.34 645.83,491.77 646.29,492.30 646.66,492.89 646.98,493.52 647.26,494.17 647.51,494.82 647.75,495.48 647.98,496.14 648.20,496.81 648.41,497.48 648.61,498.15 648.80,498.83 648.98,499.51 649.16,500.18 649.34,500.86 649.51,501.54 649.68,502.23 649.84,502.91 650.01,503.59 650.18,504.27 650.35,504.95 650.53,505.63 650.71,506.31 650.90,506.98 651.10,507.66 651.30,508.33 651.52,509.00 651.75,509.66 651.99,510.32 652.24,510.97 652.51,511.62 652.79,512.26 653.09,512.90 653.40,513.53 653.73,514.15 654.08,514.76 654.45,515.35 654.85,515.93 655.29,516.48 655.78,516.97 656.34,517.40 656.97,517.71 657.65,517.85 658.35,517.81 659.03,517.63 659.67,517.34 660.27,516.98 660.83,516.55 661.34,516.07 661.79,515.54 662.18,514.96 662.53,514.35 662.86,513.73 663.19,513.11 663.54,512.50 663.94,511.92 664.40,511.40 664.93,510.93 665.53,510.58 666.21,510.43 666.88,510.63 667.43,511.07 667.88,511.61 668.25,512.20 668.58,512.82 668.86,513.46 669.12,514.12 669.38,514.77 669.65,515.41 669.96,516.04 670.32,516.65 670.72,517.22 671.17,517.76 671.67,518.26 672.22,518.69 672.85,519.00 673.54,519.01 674.15,518.68 674.63,518.17 675.01,517.58 675.34,516.96 675.62,516.32 675.87,515.66 676.10,515.00 676.32,514.33 676.54,513.67 676.76,513.00 677.00,512.34 677.28,511.70" stroke="#484848" stroke-width="1.80"/>
<path d="M389.35,457.75 389.68,458.37 390.01,458.98 390.35,459.60 390.69,460.21 391.03,460.83 391.38,461.44 391.72,462.05 392.07,462.66 392.42,463.26 392.77,463.87 393.13,464.48 393.49,465.08 393.85,465.68 394.21,466.28 394.58,466.88 394.95,467.47 395.32,468.07 395.70,468.66 396.08,469.25 396.46,469.84 396.85,470.42 397.24,471.01 397.63,471.59 398.03,472.17 398.43,472.74 398.83,473.32 399.24,473.89 399.65,474.45 400.07,475.02 400.49,475.58 400.91,476.14 401.34,476.69 401.78,477.25 402.21,477.80 402.66,478.34 403.10,478.88 403.55,479.42 404.01,479.95 404.47,480.48 404.93,481.01 405.40,481.53 405.88,482.05 406.35,482.56 406.84,483.07 407.32,483.57 407.82,484.07 408.31,484.57 408.82,485.06 409.32,485.54 409.84,486.02 410.35,486.50 410.87,486.97 411.40,487.43 411.93,487.89 412.46,488.34 413.00,488.79 413.55,489.23 414.10,489.67 414.66,490.10 415.23,490.51 415.81,490.90 416.41,491.26 417.02,491.60 417.66,491.89 418.32,492.13 419.00,492.31 419.69,492.42 420.39,492.44 421.09,492.38 421.78,492.24 422.45,492.04 423.10,491.78 423.73,491.46 424.33,491.10 424.91,490.71 425.46,490.28 426.00,489.83 426.52,489.36 427.03,488.88 427.54,488.39 428.04,487.90 428.55,487.41 429.06,486.93 429.58,486.46 430.11,486.01 430.67,485.58 431.24,485.18 431.84,484.81 432.47,484.49 433.11,484.22 433.78,484.00 434.46,483.82 435.14,483.69 435.84,483.61 436.54,483.58 437.24,483.61 437.94,483.68 438.63,483.81 439.31,484.00 439.97,484.24 440.60,484.53 441.21,484.87 441.80,485.26 442.36,485.68 442.89,486.14 443.41,486.62 443.90,487.12 444.37,487.63 444.84,488.16 445.29,488.70 445.73,489.25 446.16,489.80 446.59,490.35 447.02,490.91 447.45,491.46 447.88,492.02 448.31,492.57 448.74,493.13 449.17,493.68 449.60,494.23 450.03,494.78 450.47,495.33 450.91,495.88 451.35,496.43 451.79,496.97 452.23,497.51 452.68,498.05 453.13,498.59 453.59,499.12 454.05,499.66 454.51,500.18 454.98,500.71 455.45,501.22 455.93,501.74 456.41,502.25 456.90,502.75 457.39,503.25 457.89,503.74 458.40,504.23 458.91,504.71 459.43,505.19 459.95,505.65 460.48,506.11 461.02,506.56 461.56,507.01 462.11,507.44 462.67,507.87 463.23,508.28 463.80,508.69 464.38,509.09 464.96,509.48 465.55,509.87 466.14,510.24 466.74,510.61 467.35,510.96 467.95,511.31 468.57,511.65 469.19,511.98 469.81,512.30 470.44,512.62 471.07,512.92 471.70,513.22 472.34,513.51 472.99,513.79 473.63,514.06 474.29,514.32 474.94,514.58 475.60,514.82 476.26,515.06 476.92,515.29 477.59,515.51 478.26,515.72 478.93,515.92 479.60,516.12 480.28,516.30 480.96,516.48 481.64,516.65 482.32,516.80 483.01,516.96 483.69,517.10 484.38,517.23 485.07,517.36 485.76,517.47 486.46,517.58 487.15,517.68 487.85,517.78 488.54,517.87 489.24,517.95 489.94,518.02 490.64,518.09 491.33,518.15 492.03,518.21 492.73,518.26 493.43,518.31 494.13,518.35 494.83,518.39 495.53,518.42 496.24,518.45 496.94,518.48 497.64,518.50 498.34,518.52 499.04,518.54 499.74,518.56 500.44,518.57 501.14,518.58 501.85,518.59 502.55,518.60 503.25,518.60 503.95,518.61 504.65,518.62 505.35,518.62 506.06,518.62 506.76,518.63 507.46,518.63 508.16,518.64 508.86,518.64 509.56,518.64 510.27,518.64 510.97,518.65 511.67,518.65 512.37,518.65 513.07,518.65 513.77,518.65 514.47,518.66 515.18,518.66 515.88,518.66 516.58,518.66 517.28,518.66 517.98,518.66 518.68,518.67 519.39,518.67 520.09,518.67 520.79,518.67 521.49,518.68 522.19,518.68 522.89,518.68 523.60,518.69 524.30,518.69 525.00,518.70 525.70,518.70 526.40,518.71 527.10,518.71 527.80,518.72 528.51,518.73 529.21,518.74 529.91,518.74 530.61,518.75 531.31,518.76 532.01,518.77 532.72,518.78 533.42,518.80 534.12,518.81 534.82,518.82 535.52,518.83 536.22,518.85 536.92,518.86 537.63,518.87 538.33,518.89 539.03,518.90 539.73,518.91 540.43,518.93 541.13,518.94 541.83,518.95 542.54,518.96 543.24,518.98 543.94,518.99 544.64,519.00 545.34,519.01 546.04,519.02 546.74,519.02 547.45,519.03 548.15,519.04 548.85,519.04 549.55,519.05 550.25,519.05 550.95,519.05 551.66,519.05 552.36,519.05 553.06,519.05 553.76,519.04 554.46,519.04 555.16,519.03 555.86,519.02 556.57,519.01 557.27,519.00 557.97,518.98 558.67,518.97 559.37,518.95 560.07,518.92 560.77,518.90 561.48,518.87 562.18,518.84 562.88,518.81 563.58,518.78 564.28,518.74 564.98,518.70 565.68,518.66 566.38,518.62 567.08,518.57 567.78,518.52 568.48,518.46 569.18,518.40 569.88,518.34 570.58,518.28 571.27,518.21 571.97,518.14 572.67,518.07 573.37,517.99 574.06,517.90 574.76,517.82 575.46,517.73 576.15,517.64 576.85,517.54 577.54,517.44 578.23,517.33 578.93,517.22 579.62,517.11 580.31,516.99 581.00,516.87 581.69,516.74 582.38,516.61 583.07,516.47 583.76,516.33 584.44,516.18 585.13,516.03 585.81,515.88 586.49,515.71 587.17,515.55 587.85,515.37 588.53,515.19 589.21,515.00 589.88,514.81 590.55,514.61 591.22,514.40 591.89,514.18 592.55,513.96 593.22,513.72 593.88,513.48 594.53,513.23 595.18,512.97 595.83,512.70 596.48,512.43 597.12,512.14 597.75,511.84 598.38,511.54 599.01,511.22 599.63,510.89 600.24,510.55 600.85,510.20 601.45,509.84 602.05,509.47 602.64,509.09 603.22,508.69 603.79,508.29 604.35,507.87 604.91,507.44 605.45,507.00 605.99,506.55 606.51,506.08 607.03,505.61 607.54,505.12 608.04,504.63 608.53,504.13 609.01,503.62 609.49,503.10 609.95,502.58 610.42,502.05 610.87,501.52 611.32,500.98 611.76,500.43 612.20,499.88 612.63,499.33 613.05,498.77 613.48,498.21 613.90,497.65 614.31,497.09 614.72,496.52 615.13,495.95 615.54,495.38 615.95,494.81 616.35,494.23 616.76,493.66 617.16,493.08 617.56,492.51 617.97,491.94 618.37,491.36 618.77,490.79 619.18,490.22 619.59,489.65 620.00,489.08 620.41,488.51 620.82,487.94 621.22,487.37 621.63,486.79 622.04,486.22 622.44,485.65 622.84,485.07 623.24,484.49 623.63,483.91 624.02,483.33 624.41,482.75 624.80,482.16 625.19,481.58 625.60,481.01 626.01,480.44 626.45,479.89 626.90,479.36 627.39,478.86 627.91,478.38 628.47,477.96 629.06,477.58 629.69,477.27 630.34,477.01 631.01,476.81 631.70,476.67 632.40,476.59 633.10,476.55 633.80,476.57 634.50,476.64 635.19,476.75 635.87,476.91 636.54,477.10 637.21,477.34 637.85,477.61 638.49,477.91 639.11,478.24 639.71,478.59 640.30,478.97 640.87,479.38 641.43,479.80 641.97,480.25 642.49,480.72 643.00,481.21 643.49,481.71 643.95,482.23 644.41,482.77 644.84,483.32 645.26,483.88 645.67,484.46 646.06,485.04 646.44,485.63 646.81,486.22 647.17,486.83 647.52,487.43 647.87,488.04 648.21,488.65 648.55,489.27 648.89,489.88 649.23,490.50 649.57,491.11 649.91,491.72 650.25,492.34 650.60,492.95 650.94,493.56 651.29,494.16 651.65,494.77 652.00,495.37 652.36,495.98 652.73,496.58 653.09,497.18 653.46,497.77 653.84,498.36 654.22,498.95 654.61,499.54 655.00,500.12 655.40,500.70 655.80,501.27 656.21,501.84 656.63,502.41 657.05,502.97 657.48,503.52 657.92,504.07 658.36,504.61 658.81,505.15 659.27,505.68 659.74,506.20 660.22,506.72 660.70,507.22 661.19,507.73 661.69,508.22 662.19,508.71 662.70,509.20 663.21,509.68 663.73,510.15 664.25,510.61 664.79,511.07 665.32,511.52 665.86,511.97 666.41,512.41 666.96,512.85 667.51,513.28 668.07,513.70 668.63,514.12 669.20,514.53 669.77,514.94 670.34,515.34 670.92,515.74 671.50,516.13 672.09,516.52 672.68,516.90 673.27,517.28 673.86,517.65 674.46,518.02 675.06,518.38 675.67,518.74 676.27,519.09 676.88,519.44" stroke="#e8474d" stroke-width="1.80"/>
<path d="M389.31,417.26 389.92,417.61 390.51,417.98 391.10,418.37 391.68,418.77 392.24,419.18 392.80,419.61 393.35,420.05 393.88,420.51 394.41,420.97 394.92,421.45 395.43,421.93 395.92,422.43 396.41,422.94 396.88,423.46 397.35,423.98 397.81,424.52 398.25,425.06 398.69,425.61 399.12,426.16 399.54,426.73 399.95,427.30 400.35,427.87 400.75,428.45 401.14,429.03 401.53,429.62 401.90,430.21 402.28,430.81 402.64,431.41 403.00,432.01 403.36,432.61 403.71,433.22 404.06,433.83 404.41,434.44 404.75,435.05 405.09,435.67 405.43,436.28 405.77,436.90 406.10,437.52 406.43,438.13 406.77,438.75 407.10,439.37 407.43,439.99 407.77,440.60 408.10,441.22 408.44,441.84 408.78,442.45 409.12,443.07 409.46,443.68 409.81,444.29 410.16,444.90 410.51,445.51 410.87,446.11 411.23,446.71 411.60,447.31 411.97,447.91 412.35,448.50 412.73,449.09 413.12,449.67 413.52,450.25 413.92,450.82 414.34,451.39 414.76,451.95 415.19,452.51 415.62,453.06 416.07,453.60 416.53,454.13 416.99,454.66 417.47,455.18 417.95,455.68 418.45,456.18 418.95,456.66 419.47,457.14 420.00,457.60 420.54,458.05 421.10,458.48 421.66,458.90 422.24,459.29 422.83,459.68 423.43,460.04 424.04,460.38 424.67,460.70 425.30,461.00 425.95,461.28 426.60,461.54 427.26,461.79 427.92,462.02 428.59,462.24 429.26,462.45 429.93,462.66 430.60,462.86 431.27,463.05 431.95,463.25 432.62,463.45 433.29,463.65 433.97,463.86 434.63,464.07 435.30,464.29 435.96,464.53 436.62,464.78 437.27,465.04 437.92,465.31 438.56,465.60 439.19,465.90 439.82,466.21 440.44,466.54 441.06,466.87 441.67,467.22 442.27,467.58 442.87,467.95 443.46,468.34 444.04,468.73 444.61,469.14 445.18,469.55 445.73,469.98 446.28,470.41 446.83,470.86 447.36,471.32 447.88,471.78 448.40,472.26 448.91,472.74 449.41,473.23 449.90,473.73 450.39,474.24 450.86,474.76 451.33,475.29 451.78,475.82 452.23,476.36 452.67,476.91 453.10,477.46 453.53,478.02 453.95,478.58 454.36,479.15 454.77,479.72 455.17,480.30 455.56,480.88 455.95,481.46 456.34,482.05 456.73,482.64 457.11,483.23 457.49,483.82 457.86,484.41 458.24,485.00 458.61,485.60 458.98,486.19 459.36,486.79 459.73,487.38 460.11,487.98 460.48,488.57 460.86,489.16 461.24,489.75 461.62,490.34 462.01,490.93 462.39,491.51 462.79,492.09 463.19,492.67 463.59,493.25 464.00,493.82 464.41,494.39 464.83,494.95 465.26,495.50 465.70,496.05 466.14,496.60 466.59,497.14 467.05,497.67 467.52,498.19 468.00,498.70 468.49,499.21 468.98,499.71 469.48,500.20 469.99,500.68 470.51,501.16 471.03,501.63 471.56,502.09 472.09,502.54 472.64,502.99 473.19,503.42 473.74,503.85 474.30,504.28 474.87,504.69 475.44,505.10 476.02,505.50 476.60,505.89 477.19,506.27 477.78,506.65 478.38,507.02 478.98,507.38 479.59,507.74 480.20,508.09 480.81,508.43 481.43,508.76 482.05,509.09 482.67,509.41 483.30,509.73 483.93,510.03 484.56,510.34 485.20,510.63 485.84,510.92 486.48,511.20 487.13,511.48 487.78,511.75 488.43,512.01 489.08,512.27 489.74,512.52 490.39,512.77 491.05,513.01 491.71,513.24 492.38,513.47 493.04,513.70 493.71,513.91 494.38,514.13 495.05,514.33 495.73,514.53 496.40,514.73 497.08,514.92 497.75,515.10 498.43,515.28 499.11,515.45 499.79,515.62 500.48,515.78 501.16,515.94 501.85,516.10 502.53,516.24 503.22,516.39 503.91,516.53 504.60,516.66 505.29,516.79 505.98,516.92 506.67,517.04 507.36,517.15 508.06,517.26 508.75,517.37 509.44,517.48 510.14,517.57 510.83,517.67 511.53,517.76 512.23,517.85 512.92,517.93 513.62,518.01 514.32,518.08 515.02,518.15 515.72,518.22 516.42,518.29 517.12,518.35 517.82,518.40 518.52,518.46 519.22,518.51 519.92,518.55 520.62,518.60 521.32,518.64 522.02,518.67 522.72,518.71 523.42,518.74 524.12,518.77 524.83,518.79 525.53,518.81 526.23,518.83 526.93,518.85 527.63,518.86 528.34,518.87 529.04,518.88 529.74,518.89 530.44,518.89 531.14,518.89 531.85,518.89 532.55,518.88 533.25,518.88 533.95,518.87 534.65,518.86 535.36,518.84 536.06,518.83 536.76,518.81 537.46,518.79 538.16,518.77 538.87,518.74 539.57,518.72 540.27,518.69 540.97,518.66 541.67,518.63 542.37,518.59 543.07,518.56 543.78,518.52 544.48,518.48 545.18,518.43 545.88,518.39 546.58,518.34 547.28,518.29 547.98,518.24 548.68,518.18 549.38,518.13 550.08,518.07 550.78,518.01 551.48,517.94 552.18,517.88 552.87,517.81 553.57,517.74 554.27,517.67 554.97,517.59 555.67,517.52 556.37,517.44 557.06,517.36 557.76,517.27 558.46,517.19 559.15,517.10 559.85,517.01 560.55,516.92 561.24,516.82 561.94,516.73 562.63,516.63 563.33,516.53 564.02,516.43 564.72,516.32 565.41,516.21 566.10,516.10 566.80,515.99 567.49,515.88 568.18,515.76 568.87,515.64 569.56,515.52 570.25,515.39 570.94,515.26 571.63,515.12 572.32,514.98 573.01,514.83 573.69,514.68 574.38,514.53 575.06,514.37 575.74,514.20 576.42,514.03 577.10,513.85 577.78,513.66 578.46,513.47 579.13,513.27 579.80,513.06 580.47,512.85 581.13,512.62 581.80,512.39 582.46,512.15 583.11,511.90 583.77,511.65 584.41,511.38 585.06,511.10 585.70,510.82 586.34,510.52 586.97,510.21 587.60,509.90 588.22,509.57 588.83,509.23 589.45,508.89 590.05,508.54 590.65,508.17 591.25,507.80 591.84,507.42 592.43,507.03 593.01,506.64 593.58,506.24 594.15,505.83 594.72,505.41 595.27,504.98 595.83,504.55 596.38,504.12 596.92,503.67 597.46,503.22 597.99,502.77 598.52,502.30 599.05,501.84 599.57,501.37 600.08,500.89 600.59,500.41 601.10,499.92 601.60,499.43 602.09,498.93 602.59,498.43 603.07,497.92 603.56,497.41 604.03,496.90 604.51,496.38 604.98,495.86 605.45,495.33 605.91,494.81 606.37,494.27 606.82,493.74 607.27,493.20 607.72,492.66 608.16,492.11 608.60,491.57 609.04,491.02 609.48,490.47 609.91,489.92 610.34,489.36 610.77,488.80 611.19,488.25 611.62,487.69 612.04,487.13 612.46,486.57 612.89,486.01 613.31,485.44 613.73,484.88 614.15,484.32 614.57,483.76 614.99,483.19 615.41,482.63 615.83,482.07 616.25,481.51 616.68,480.95 617.10,480.39 617.53,479.83 617.96,479.28 618.39,478.72 618.82,478.17 619.25,477.62 619.69,477.07 620.13,476.52 620.58,475.98 621.03,475.44 621.49,474.91 621.96,474.39 622.43,473.87 622.92,473.36 623.41,472.87 623.92,472.38 624.44,471.91 624.98,471.46 625.53,471.02 626.09,470.60 626.67,470.20 627.27,469.83 627.88,469.49 628.51,469.19 629.16,468.91 629.82,468.68 630.50,468.49 631.18,468.34 631.87,468.22 632.57,468.15 633.27,468.11 633.97,468.12 634.68,468.15 635.37,468.23 636.07,468.34 636.75,468.48 637.43,468.66 638.10,468.87 638.76,469.11 639.41,469.38 640.05,469.68 640.67,470.01 641.27,470.36 641.86,470.74 642.44,471.15 643.00,471.57 643.55,472.01 644.08,472.46 644.60,472.94 645.11,473.42 645.60,473.92 646.09,474.43 646.56,474.95 647.02,475.47 647.47,476.01 647.92,476.55 648.36,477.10 648.78,477.66 649.21,478.22 649.62,478.79 650.03,479.36 650.43,479.93 650.83,480.51 651.23,481.09 651.62,481.67 652.01,482.26 652.40,482.84 652.78,483.43 653.16,484.02 653.54,484.61 653.93,485.20 654.31,485.79 654.69,486.38 655.07,486.97 655.44,487.56 655.82,488.15 656.20,488.74 656.58,489.33 656.96,489.93 657.34,490.52 657.72,491.11 658.10,491.70 658.48,492.29 658.86,492.88 659.25,493.46 659.63,494.05 660.01,494.64 660.40,495.23 660.79,495.81 661.18,496.39 661.57,496.98 661.97,497.56 662.36,498.14 662.76,498.72 663.16,499.29 663.56,499.87 663.97,500.44 664.38,501.01 664.79,501.58 665.21,502.15 665.62,502.71 666.04,503.27 666.47,503.83 666.90,504.39 667.33,504.94 667.76,505.49 668.20,506.04 668.64,506.59 669.09,507.13 669.54,507.67 669.99,508.21 670.45,508.74 670.91,509.27 671.37,509.80 671.84,510.32 672.31,510.84 672.79,511.35 673.27,511.87 673.75,512.37 674.24,512.88 674.74,513.38 675.23,513.88 675.73,514.37 676.24,514.86 676.74,515.34" stroke="#2a72dc" stroke-width="1.90"/>
<path d="M389.38,371.81 390.00,372.13 390.61,372.47 391.22,372.81 391.83,373.17 392.42,373.55 393.01,373.93 393.59,374.32 394.17,374.73 394.73,375.14 395.29,375.57 395.84,376.01 396.38,376.45 396.92,376.91 397.44,377.37 397.96,377.85 398.47,378.33 398.97,378.82 399.46,379.32 399.95,379.83 400.43,380.35 400.89,380.87 401.35,381.40 401.81,381.94 402.25,382.48 402.69,383.03 403.12,383.58 403.55,384.14 403.96,384.71 404.37,385.28 404.78,385.85 405.18,386.43 405.57,387.01 405.96,387.60 406.34,388.19 406.71,388.78 407.08,389.38 407.45,389.98 407.81,390.58 408.17,391.18 408.53,391.79 408.88,392.40 409.22,393.01 409.57,393.62 409.91,394.23 410.25,394.85 410.58,395.47 410.92,396.08 411.25,396.70 411.58,397.32 411.91,397.94 412.24,398.56 412.57,399.18 412.90,399.80 413.23,400.43 413.55,401.05 413.88,401.67 414.21,402.29 414.54,402.91 414.87,403.53 415.20,404.15 415.53,404.77 415.87,405.38 416.20,406.00 416.54,406.62 416.88,407.23 417.23,407.84 417.58,408.45 417.93,409.06 418.28,409.67 418.64,410.27 419.00,410.87 419.37,411.47 419.74,412.07 420.11,412.66 420.49,413.25 420.87,413.84 421.25,414.43 421.64,415.02 422.04,415.60 422.43,416.18 422.83,416.76 423.23,417.33 423.64,417.91 424.04,418.48 424.46,419.05 424.87,419.62 425.28,420.18 425.70,420.75 426.12,421.31 426.55,421.87 426.97,422.43 427.40,422.98 427.83,423.54 428.26,424.09 428.70,424.64 429.13,425.20 429.57,425.75 430.01,426.29 430.45,426.84 430.89,427.39 431.33,427.93 431.78,428.47 432.23,429.02 432.67,429.56 433.12,430.10 433.57,430.64 434.02,431.18 434.47,431.72 434.92,432.26 435.37,432.79 435.83,433.33 436.28,433.87 436.73,434.40 437.19,434.94 437.64,435.48 438.09,436.01 438.55,436.55 439.00,437.08 439.45,437.62 439.91,438.16 440.36,438.69 440.81,439.23 441.27,439.77 441.72,440.30 442.17,440.84 442.62,441.38 443.07,441.92 443.52,442.46 443.97,443.00 444.41,443.54 444.86,444.09 445.30,444.63 445.75,445.17 446.19,445.72 446.63,446.27 447.07,446.81 447.50,447.36 447.94,447.92 448.37,448.47 448.81,449.02 449.23,449.58 449.66,450.13 450.09,450.69 450.51,451.25 450.93,451.82 451.35,452.38 451.77,452.95 452.18,453.51 452.59,454.08 453.00,454.65 453.40,455.23 453.81,455.80 454.21,456.38 454.61,456.95 455.01,457.53 455.41,458.11 455.80,458.69 456.20,459.27 456.59,459.86 456.98,460.44 457.37,461.02 457.76,461.61 458.14,462.19 458.53,462.78 458.92,463.37 459.30,463.96 459.68,464.54 460.07,465.13 460.45,465.72 460.83,466.31 461.22,466.90 461.60,467.49 461.98,468.08 462.36,468.67 462.74,469.26 463.13,469.85 463.51,470.43 463.89,471.02 464.27,471.61 464.66,472.20 465.04,472.79 465.43,473.37 465.81,473.96 466.20,474.55 466.59,475.13 466.98,475.72 467.37,476.30 467.76,476.88 468.15,477.46 468.55,478.05 468.95,478.63 469.34,479.20 469.74,479.78 470.15,480.36 470.55,480.93 470.96,481.50 471.37,482.08 471.78,482.64 472.19,483.21 472.60,483.78 473.02,484.34 473.44,484.91 473.87,485.47 474.29,486.02 474.72,486.58 475.15,487.13 475.59,487.69 476.03,488.23 476.47,488.78 476.91,489.32 477.36,489.87 477.81,490.40 478.27,490.94 478.72,491.47 479.19,492.00 479.65,492.53 480.12,493.05 480.59,493.57 481.07,494.08 481.55,494.60 482.03,495.10 482.52,495.61 483.02,496.11 483.51,496.61 484.01,497.10 484.52,497.59 485.02,498.07 485.54,498.55 486.05,499.03 486.57,499.50 487.09,499.97 487.62,500.44 488.15,500.90 488.68,501.35 489.22,501.81 489.76,502.25 490.31,502.70 490.86,503.14 491.41,503.57 491.96,504.00 492.52,504.42 493.08,504.84 493.65,505.26 494.22,505.67 494.79,506.08 495.37,506.48 495.95,506.87 496.53,507.27 497.12,507.65 497.71,508.03 498.30,508.41 498.90,508.78 499.50,509.14 500.10,509.50 500.71,509.86 501.32,510.21 501.93,510.55 502.55,510.89 503.17,511.22 503.79,511.55 504.41,511.86 505.04,512.18 505.67,512.49 506.31,512.79 506.94,513.08 507.59,513.37 508.23,513.65 508.87,513.93 509.52,514.20 510.17,514.46 510.83,514.72 511.49,514.96 512.14,515.20 512.81,515.44 513.47,515.67 514.14,515.89 514.81,516.10 515.48,516.30 516.15,516.50 516.83,516.69 517.51,516.87 518.19,517.04 518.87,517.21 519.56,517.37 520.24,517.52 520.93,517.66 521.62,517.79 522.31,517.91 523.00,518.03 523.70,518.13 524.39,518.23 525.09,518.32 525.79,518.40 526.49,518.47 527.19,518.53 527.89,518.59 528.59,518.63 529.29,518.66 529.99,518.69 530.69,518.70 531.40,518.71 532.10,518.71 532.80,518.69 533.50,518.67 534.20,518.64 534.90,518.61 535.61,518.56 536.31,518.51 537.01,518.45 537.70,518.38 538.40,518.31 539.10,518.23 539.80,518.14 540.49,518.05 541.19,517.94 541.88,517.84 542.58,517.73 543.27,517.61 543.96,517.48 544.65,517.35 545.34,517.22 546.03,517.08 546.71,516.94 547.40,516.79 548.09,516.63 548.77,516.48 549.45,516.31 550.14,516.15 550.82,515.98 551.50,515.81 552.18,515.63 552.86,515.45 553.53,515.27 554.21,515.08 554.89,514.89 555.56,514.70 556.24,514.50 556.91,514.31 557.59,514.11 558.26,513.91 558.93,513.70 559.60,513.50 560.27,513.29 560.94,513.08 561.61,512.86 562.28,512.65 562.95,512.43 563.61,512.20 564.28,511.98 564.94,511.75 565.60,511.51 566.26,511.28 566.92,511.04 567.58,510.79 568.24,510.54 568.89,510.29 569.55,510.03 570.20,509.77 570.85,509.50 571.49,509.23 572.14,508.95 572.78,508.67 573.42,508.38 574.06,508.09 574.70,507.79 575.33,507.48 575.96,507.17 576.59,506.86 577.21,506.53 577.83,506.21 578.45,505.87 579.06,505.53 579.67,505.18 580.28,504.82 580.88,504.46 581.47,504.09 582.07,503.72 582.66,503.33 583.24,502.95 583.82,502.55 584.40,502.15 584.97,501.74 585.54,501.33 586.11,500.92 586.67,500.49 587.22,500.07 587.78,499.63 588.33,499.19 588.87,498.75 589.41,498.31 589.95,497.85 590.49,497.40 591.02,496.94 591.54,496.47 592.07,496.01 592.59,495.53 593.10,495.06 593.62,494.58 594.13,494.10 594.64,493.61 595.14,493.12 595.64,492.63 596.14,492.14 596.63,491.64 597.13,491.14 597.62,490.63 598.11,490.13 598.59,489.62 599.07,489.11 599.55,488.60 600.03,488.08 600.51,487.57 600.98,487.05 601.45,486.53 601.92,486.01 602.39,485.48 602.85,484.96 603.32,484.43 603.78,483.90 604.24,483.37 604.70,482.84 605.16,482.31 605.62,481.78 606.07,481.24 606.53,480.71 606.98,480.17 607.44,479.64 607.89,479.10 608.34,478.56 608.79,478.02 609.24,477.48 609.69,476.94 610.14,476.40 610.59,475.86 611.04,475.32 611.49,474.78 611.94,474.24 612.39,473.70 612.83,473.16 613.28,472.62 613.73,472.08 614.19,471.55 614.64,471.01 615.10,470.48 615.56,469.95 616.03,469.43 616.50,468.90 616.97,468.39 617.46,467.88 617.95,467.37 618.44,466.88 618.95,466.39 619.46,465.91 619.98,465.44 620.51,464.98 621.05,464.53 621.60,464.09 622.16,463.67 622.73,463.25 623.31,462.86 623.90,462.47 624.49,462.11 625.10,461.76 625.72,461.43 626.35,461.12 626.99,460.83 627.64,460.56 628.30,460.32 628.97,460.10 629.65,459.91 630.33,459.76 631.02,459.64 631.72,459.55 632.42,459.51 633.12,459.50 633.82,459.54 634.52,459.62 635.21,459.73 635.90,459.88 636.58,460.06 637.25,460.28 637.90,460.53 638.55,460.80 639.19,461.10 639.81,461.42 640.42,461.77 641.02,462.13 641.61,462.52 642.18,462.92 642.75,463.34 643.30,463.77 643.84,464.22 644.37,464.68 644.89,465.16 645.39,465.65 645.89,466.14 646.37,466.65 646.84,467.17 647.31,467.70 647.76,468.24 648.21,468.78 648.64,469.33 649.08,469.88 649.50,470.44 649.92,471.00 650.34,471.56 650.76,472.13 651.17,472.70 651.58,473.27 651.99,473.84 652.40,474.41 652.81,474.98 653.22,475.55 653.63,476.12 654.03,476.69 654.44,477.27 654.85,477.84 655.25,478.41 655.66,478.99 656.07,479.56 656.47,480.13 656.88,480.71 657.28,481.28 657.69,481.85 658.09,482.43 658.49,483.00 658.90,483.58 659.30,484.15 659.71,484.72 660.11,485.30 660.52,485.87 660.92,486.45 661.33,487.02 661.73,487.59 662.14,488.17 662.55,488.74 662.95,489.31 663.36,489.88 663.77,490.46 664.17,491.03 664.58,491.60 664.99,492.17 665.40,492.74 665.81,493.31 666.22,493.88 666.64,494.45 667.05,495.02 667.46,495.58 667.88,496.15 668.29,496.72 668.71,497.28 669.12,497.85 669.54,498.41 669.96,498.97 670.38,499.54 670.80,500.10 671.23,500.66 671.65,501.22 672.08,501.78 672.50,502.34 672.93,502.89 673.36,503.45 673.79,504.00 674.22,504.56 674.65,505.11 675.09,505.66 675.52,506.21 675.96,506.76 676.40,507.31 676.84,507.86 677.28,508.41" stroke="#47ad73" stroke-width="1.80"/>
</g>
<rect x="388.47" y="307.70" width="289.03" height="232.40" fill="none" stroke="#000" stroke-width="1.6"/>
<path d="M383.87,518.80H388.47M385.87,492.42H388.47M383.87,466.04H388.47M385.87,439.66H388.47M383.87,413.28H388.47M385.87,386.90H388.47M383.87,360.52H388.47M385.87,334.14H388.47M383.87,307.76H388.47M388.47,540.10V544.50M460.73,540.10V544.50M532.99,540.10V544.50M605.24,540.10V544.50M677.50,540.10V544.50" stroke="#000" stroke-width="1.4" fill="none"/>
<g font-family="'Liberation Serif', serif" font-weight="bold" font-size="11.2" fill="#000"><text transform="translate(382.27,522.20) scale(1,1.2)" text-anchor="end">0</text><text transform="translate(382.27,469.44) scale(1,1.2)" text-anchor="end">4</text><text transform="translate(382.27,416.68) scale(1,1.2)" text-anchor="end">8</text><text transform="translate(382.27,363.92) scale(1,1.2)" text-anchor="end">12</text><text transform="translate(381.27,311.16) scale(1,1.2)" text-anchor="end">16</text></g>
<g font-family="'Liberation Serif', serif" font-weight="bold" font-size="10" fill="#000"><text x="388.47" y="555.70" text-anchor="middle">-0.8</text><text x="460.73" y="555.70" text-anchor="middle">-0.4</text><text x="532.99" y="555.70" text-anchor="middle">0.0</text><text x="605.24" y="555.70" text-anchor="middle">0.4</text><text x="677.50" y="555.70" text-anchor="middle">0.8</text></g>
<text x="351.30" y="304.60" font-family="'Liberation Serif', serif" font-weight="bold" font-size="13">(d)</text>
<text x="532.90" y="573.90" text-anchor="middle" font-family="'Liberation Serif', serif" font-weight="bold" font-size="12">&#956;(eV)</text>
<text transform="translate(366.60,422.60) rotate(-90)" text-anchor="middle" font-family="'Liberation Serif', serif" font-weight="bold" font-size="12.25">PF/&#964;(10<tspan font-size="8" dy="-4.5">10</tspan><tspan dy="4.5">W/mK</tspan><tspan font-size="8" dy="-4.5">2</tspan><tspan dy="4.5">s)</tspan></text>
<line x1="612.20" y1="315.80" x2="639.80" y2="315.80" stroke="#6e6e6e" stroke-width="1.80"/>
<text x="642.60" y="319.89" font-family="'Liberation Serif', serif" font-weight="bold" font-size="12.2">300K</text>
<line x1="612.20" y1="331.00" x2="639.80" y2="331.00" stroke="#ee676c" stroke-width="1.80"/>
<text x="642.60" y="335.09" font-family="'Liberation Serif', serif" font-weight="bold" font-size="12.2">500K</text>
<line x1="612.20" y1="346.30" x2="639.80" y2="346.30" stroke="#2f7bde" stroke-width="1.90"/>
<text x="642.60" y="350.39" font-family="'Liberation Serif', serif" font-weight="bold" font-size="12.2">700K</text>
<line x1="612.20" y1="361.30" x2="639.80" y2="361.30" stroke="#58b983" stroke-width="1.80"/>
<text x="642.60" y="365.39" font-family="'Liberation Serif', serif" font-weight="bold" font-size="12.2">900K</text>
</svg>
</body></html>
